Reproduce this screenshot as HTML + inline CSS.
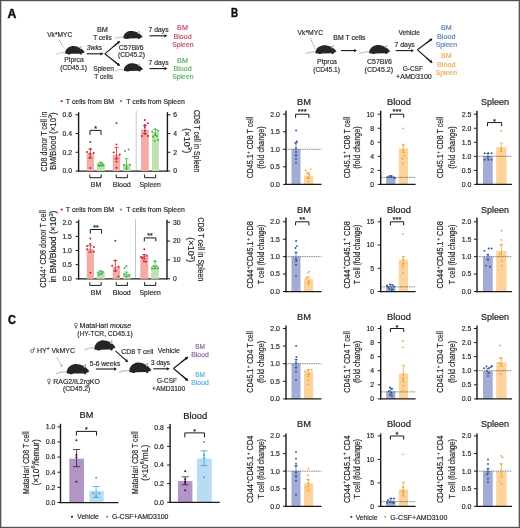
<!DOCTYPE html>
<html><head><meta charset="utf-8"><style>
html,body{margin:0;padding:0;background:#fff;width:520px;height:528px;overflow:hidden;}
svg{will-change:transform;}
svg text{font-family:"Liberation Sans", sans-serif;}
</style></head><body>
<svg width="520" height="528" viewBox="0 0 520 528" style="position:absolute;left:0;top:0;">
<rect x="0" y="0" width="520" height="528" fill="#ffffff"/>
<text x="7.6" y="17.5" font-size="12.2" fill="#111" text-anchor="start" stroke="#111" stroke-width="0.45" font-weight="bold" textLength="8.8" lengthAdjust="spacingAndGlyphs">A</text>
<text x="230.9" y="17.4" font-size="12.2" fill="#111" text-anchor="start" stroke="#111" stroke-width="0.45" font-weight="bold" textLength="7.1" lengthAdjust="spacingAndGlyphs">B</text>
<text x="8.1" y="323.8" font-size="12.2" fill="#111" text-anchor="start" stroke="#111" stroke-width="0.45" font-weight="bold" textLength="7.9" lengthAdjust="spacingAndGlyphs">C</text>
<text x="59.7" y="36.6" font-size="7.4" fill="#2a2a2a" text-anchor="middle" stroke="#2a2a2a" stroke-width="0.18" textLength="25" lengthAdjust="spacingAndGlyphs">Vk*MYC</text>
<line x1="59.2" y1="39.9" x2="63.6" y2="47.7" stroke="#8c8288" stroke-width="0.85" stroke-dasharray="1.3,0.9"/>
<g transform="translate(64.8,54.4) scale(0.9333333333333333,0.9222222222222223)"><path d="M1.2,-1.3 C-2,-2.9 -5,-2.4 -9,-0.5" fill="none" stroke="#c9c3c5" stroke-width="1.1" stroke-linecap="round"/><path d="M1.0,-0.6 C-0.6,-2.5 1.5,-7.5 7,-8.8 C10,-9.4 13,-8.6 15,-7.6 C16.5,-7.3 17.5,-6.6 18.5,-5.6 C19.6,-4.6 20.8,-3.5 21,-2.7 C21.1,-2.0 20.2,-1.7 19.2,-1.6 L18.2,-0.9 L18.4,0 L16.6,0 L16.2,-0.8 L6.5,-0.6 L5.5,0 L3.5,0 L3.2,-0.4 Z" fill="#272424"/><ellipse cx="17.2" cy="-7.4" rx="1.1" ry="1.8" transform="rotate(20 17.2 -7.4)" fill="#d8b4bc"/><circle cx="20.9" cy="-2.8" r="0.5" fill="#c87888"/></g>
<text x="74.0" y="62.0" font-size="7.4" fill="#2a2a2a" text-anchor="middle" stroke="#2a2a2a" stroke-width="0.18" textLength="19.4" lengthAdjust="spacingAndGlyphs">Ptprca</text>
<text x="73.55" y="69.6" font-size="7.4" fill="#2a2a2a" text-anchor="middle" stroke="#2a2a2a" stroke-width="0.18" textLength="26.7" lengthAdjust="spacingAndGlyphs">(CD45.1)</text>
<text x="102.4" y="31.6" font-size="7.4" fill="#2a2a2a" text-anchor="middle" stroke="#2a2a2a" stroke-width="0.18" textLength="11" lengthAdjust="spacingAndGlyphs">BM</text>
<text x="102.5" y="39.7" font-size="7.4" fill="#2a2a2a" text-anchor="middle" stroke="#2a2a2a" stroke-width="0.18" textLength="18.6" lengthAdjust="spacingAndGlyphs">T cells</text>
<text x="94.5" y="50.2" font-size="7.4" fill="#2a2a2a" text-anchor="middle" stroke="#2a2a2a" stroke-width="0.18" font-style="italic" textLength="15.4" lengthAdjust="spacingAndGlyphs">3wks</text>
<line x1="86.5" y1="53.8" x2="101.0" y2="53.8" stroke="#1a1a1a" stroke-width="1.1"/>
<path d="M103.50,53.80 L100.50,55.45 L100.50,52.15 Z" fill="#1a1a1a"/>
<line x1="119.5" y1="41.5" x2="104.8" y2="53.8" stroke="#1a1a1a" stroke-width="1.1"/>
<line x1="104.8" y1="53.8" x2="119.5" y2="65.5" stroke="#1a1a1a" stroke-width="1.1"/>
<line x1="114" y1="46.1" x2="118.07944680100657" y2="42.7004609991612" stroke="#1a1a1a" stroke-width="1.1"/>
<path d="M120.00,41.10 L118.75,44.29 L116.64,41.75 Z" fill="#1a1a1a"/>
<line x1="114" y1="61" x2="118.07944680100657" y2="64.3995390008388" stroke="#1a1a1a" stroke-width="1.1"/>
<path d="M120.00,66.00 L116.64,65.35 L118.75,62.81 Z" fill="#1a1a1a"/>
<text x="103.6" y="70.7" font-size="7.4" fill="#2a2a2a" text-anchor="middle" stroke="#2a2a2a" stroke-width="0.18" textLength="20.8" lengthAdjust="spacingAndGlyphs">Spleen</text>
<text x="103.7" y="78.5" font-size="7.4" fill="#2a2a2a" text-anchor="middle" stroke="#2a2a2a" stroke-width="0.18" textLength="18.8" lengthAdjust="spacingAndGlyphs">T cells</text>
<g transform="translate(123,39.1) scale(0.9190476190476191,0.911111111111111)"><path d="M1.2,-1.3 C-2,-2.9 -5,-2.4 -9,-0.5" fill="none" stroke="#c9c3c5" stroke-width="1.1" stroke-linecap="round"/><path d="M1.0,-0.6 C-0.6,-2.5 1.5,-7.5 7,-8.8 C10,-9.4 13,-8.6 15,-7.6 C16.5,-7.3 17.5,-6.6 18.5,-5.6 C19.6,-4.6 20.8,-3.5 21,-2.7 C21.1,-2.0 20.2,-1.7 19.2,-1.6 L18.2,-0.9 L18.4,0 L16.6,0 L16.2,-0.8 L6.5,-0.6 L5.5,0 L3.5,0 L3.2,-0.4 Z" fill="#272424"/><ellipse cx="17.2" cy="-7.4" rx="1.1" ry="1.8" transform="rotate(20 17.2 -7.4)" fill="#d8b4bc"/><circle cx="20.9" cy="-2.8" r="0.5" fill="#c87888"/></g>
<text x="131.25" y="50.3" font-size="7.4" fill="#2a2a2a" text-anchor="middle" stroke="#2a2a2a" stroke-width="0.18" textLength="24.9" lengthAdjust="spacingAndGlyphs">C57Bl/6</text>
<text x="131.45" y="57.4" font-size="7.4" fill="#2a2a2a" text-anchor="middle" stroke="#2a2a2a" stroke-width="0.18" textLength="26.9" lengthAdjust="spacingAndGlyphs">(CD45.2)</text>
<g transform="translate(123.5,71.5) scale(0.9190476190476191,0.911111111111111)"><path d="M1.2,-1.3 C-2,-2.9 -5,-2.4 -9,-0.5" fill="none" stroke="#c9c3c5" stroke-width="1.1" stroke-linecap="round"/><path d="M1.0,-0.6 C-0.6,-2.5 1.5,-7.5 7,-8.8 C10,-9.4 13,-8.6 15,-7.6 C16.5,-7.3 17.5,-6.6 18.5,-5.6 C19.6,-4.6 20.8,-3.5 21,-2.7 C21.1,-2.0 20.2,-1.7 19.2,-1.6 L18.2,-0.9 L18.4,0 L16.6,0 L16.2,-0.8 L6.5,-0.6 L5.5,0 L3.5,0 L3.2,-0.4 Z" fill="#272424"/><ellipse cx="17.2" cy="-7.4" rx="1.1" ry="1.8" transform="rotate(20 17.2 -7.4)" fill="#d8b4bc"/><circle cx="20.9" cy="-2.8" r="0.5" fill="#c87888"/></g>
<text x="158.6" y="32.3" font-size="7.4" fill="#2a2a2a" text-anchor="middle" stroke="#2a2a2a" stroke-width="0.18" textLength="20" lengthAdjust="spacingAndGlyphs">7 days</text>
<line x1="149.5" y1="35.8" x2="165.0" y2="35.8" stroke="#1a1a1a" stroke-width="1.1"/>
<path d="M167.50,35.80 L164.50,37.45 L164.50,34.15 Z" fill="#1a1a1a"/>
<text x="158.6" y="65.0" font-size="7.4" fill="#2a2a2a" text-anchor="middle" stroke="#2a2a2a" stroke-width="0.18" textLength="20" lengthAdjust="spacingAndGlyphs">7 days</text>
<line x1="149.5" y1="68.6" x2="165.0" y2="68.6" stroke="#1a1a1a" stroke-width="1.1"/>
<path d="M167.50,68.60 L164.50,70.25 L164.50,66.95 Z" fill="#1a1a1a"/>
<text x="182.55" y="29.9" font-size="7.4" fill="#c24a64" text-anchor="middle" stroke="#c24a64" stroke-width="0.18" textLength="10.9" lengthAdjust="spacingAndGlyphs">BM</text>
<text x="182.55" y="38.7" font-size="7.4" fill="#c24a64" text-anchor="middle" stroke="#c24a64" stroke-width="0.18" textLength="18.1" lengthAdjust="spacingAndGlyphs">Blood</text>
<text x="182.85" y="46.9" font-size="7.4" fill="#c24a64" text-anchor="middle" stroke="#c24a64" stroke-width="0.18" textLength="21.3" lengthAdjust="spacingAndGlyphs">Spleen</text>
<text x="182.55" y="62.5" font-size="7.4" fill="#60ae60" text-anchor="middle" stroke="#60ae60" stroke-width="0.18" textLength="10.9" lengthAdjust="spacingAndGlyphs">BM</text>
<text x="182.55" y="71.0" font-size="7.4" fill="#60ae60" text-anchor="middle" stroke="#60ae60" stroke-width="0.18" textLength="18.1" lengthAdjust="spacingAndGlyphs">Blood</text>
<text x="182.85" y="79.4" font-size="7.4" fill="#60ae60" text-anchor="middle" stroke="#60ae60" stroke-width="0.18" textLength="21.3" lengthAdjust="spacingAndGlyphs">Spleen</text>
<circle cx="61.7" cy="101.2" r="1.1" fill="#c8233c"/>
<text x="65.8" y="103.7" font-size="7.2" fill="#2a2a2a" text-anchor="start" stroke="#2a2a2a" stroke-width="0.18" textLength="48.4" lengthAdjust="spacingAndGlyphs">T cells from BM</text>
<circle cx="121" cy="101.2" r="1.1" fill="#3db34a"/>
<text x="126.3" y="103.7" font-size="7.2" fill="#2a2a2a" text-anchor="start" stroke="#2a2a2a" stroke-width="0.18" textLength="58.5" lengthAdjust="spacingAndGlyphs">T cells from Spleen</text>
<line x1="78.6" y1="112.2" x2="78.6" y2="171.7" stroke="#1a1a1a" stroke-width="1.4"/>
<line x1="77.89999999999999" y1="171.0" x2="167.4" y2="171.0" stroke="#1a1a1a" stroke-width="1.25"/>
<line x1="75.6" y1="114.8" x2="78.6" y2="114.8" stroke="#1a1a1a" stroke-width="1.0"/>
<text x="72.0" y="117.17999999999999" font-size="6.8" fill="#2a2a2a" text-anchor="end" stroke="#2a2a2a" stroke-width="0.18">0.6</text>
<line x1="75.6" y1="133.53333333333333" x2="78.6" y2="133.53333333333333" stroke="#1a1a1a" stroke-width="1.0"/>
<text x="72.0" y="135.91333333333333" font-size="6.8" fill="#2a2a2a" text-anchor="end" stroke="#2a2a2a" stroke-width="0.18">0.4</text>
<line x1="75.6" y1="152.26666666666665" x2="78.6" y2="152.26666666666665" stroke="#1a1a1a" stroke-width="1.0"/>
<text x="72.0" y="154.64666666666665" font-size="6.8" fill="#2a2a2a" text-anchor="end" stroke="#2a2a2a" stroke-width="0.18">0.2</text>
<line x1="75.6" y1="171.0" x2="78.6" y2="171.0" stroke="#1a1a1a" stroke-width="1.0"/>
<text x="72.0" y="173.38" font-size="6.8" fill="#2a2a2a" text-anchor="end" stroke="#2a2a2a" stroke-width="0.18">0.0</text>
<line x1="167.4" y1="112.2" x2="167.4" y2="171.6" stroke="#1a1a1a" stroke-width="1.4"/>
<line x1="167.4" y1="114.8" x2="170.4" y2="114.8" stroke="#1a1a1a" stroke-width="1.0"/>
<text x="173.3" y="117.17999999999999" font-size="6.8" fill="#2a2a2a" text-anchor="start" stroke="#2a2a2a" stroke-width="0.18">6</text>
<line x1="167.4" y1="133.53333333333333" x2="170.4" y2="133.53333333333333" stroke="#1a1a1a" stroke-width="1.0"/>
<text x="173.3" y="135.91333333333333" font-size="6.8" fill="#2a2a2a" text-anchor="start" stroke="#2a2a2a" stroke-width="0.18">4</text>
<line x1="167.4" y1="152.26666666666665" x2="170.4" y2="152.26666666666665" stroke="#1a1a1a" stroke-width="1.0"/>
<text x="173.3" y="154.64666666666665" font-size="6.8" fill="#2a2a2a" text-anchor="start" stroke="#2a2a2a" stroke-width="0.18">2</text>
<line x1="167.4" y1="171.0" x2="170.4" y2="171.0" stroke="#1a1a1a" stroke-width="1.0"/>
<text x="173.3" y="173.38" font-size="6.8" fill="#2a2a2a" text-anchor="start" stroke="#2a2a2a" stroke-width="0.18">0</text>
<rect x="86.7" y="153.2" width="7.200000000000003" height="17.80000000000001" fill="#f3aba3"/>
<rect x="96.7" y="163.5" width="8.099999999999994" height="7.5" fill="#bfe2b0"/>
<rect x="112.8" y="154.7" width="7.299999999999997" height="16.30000000000001" fill="#f3aba3"/>
<rect x="123" y="164.1" width="7.699999999999989" height="6.900000000000006" fill="#bfe2b0"/>
<rect x="141" y="129.6" width="7.800000000000011" height="41.400000000000006" fill="#f3aba3"/>
<rect x="152" y="132.0" width="6.800000000000011" height="39.0" fill="#bfe2b0"/>
<line x1="136.2" y1="111.5" x2="136.2" y2="170.5" stroke="#6a7080" stroke-width="0.9" stroke-dasharray="0.9,1.1"/>
<line x1="90.3" y1="149" x2="90.3" y2="158" stroke="#c8233c" stroke-width="0.8"/>
<line x1="88.3" y1="158" x2="92.3" y2="158" stroke="#c8233c" stroke-width="0.8"/>
<line x1="88.3" y1="149" x2="92.3" y2="149" stroke="#c8233c" stroke-width="0.8"/>
<circle cx="90.3" cy="142.1" r="1.0" fill="#c8233c"/>
<circle cx="90.3" cy="149" r="1.0" fill="#c8233c"/>
<circle cx="87" cy="152" r="1.0" fill="#c8233c"/>
<circle cx="93.7" cy="153" r="1.0" fill="#c8233c"/>
<circle cx="90" cy="153.8" r="1.0" fill="#c8233c"/>
<circle cx="90" cy="157.8" r="1.0" fill="#c8233c"/>
<circle cx="90.3" cy="168" r="1.0" fill="#c8233c"/>
<line x1="100.7" y1="162.5" x2="100.7" y2="165.5" stroke="#3db34a" stroke-width="0.8"/>
<line x1="98.7" y1="165.5" x2="102.7" y2="165.5" stroke="#3db34a" stroke-width="0.8"/>
<line x1="98.7" y1="162.5" x2="102.7" y2="162.5" stroke="#3db34a" stroke-width="0.8"/>
<circle cx="98.5" cy="164.5" r="1.0" fill="#3db34a"/>
<circle cx="100.5" cy="162.5" r="1.0" fill="#3db34a"/>
<circle cx="102.5" cy="164" r="1.0" fill="#3db34a"/>
<circle cx="99" cy="166" r="1.0" fill="#3db34a"/>
<circle cx="101.5" cy="166" r="1.0" fill="#3db34a"/>
<circle cx="103.5" cy="165.5" r="1.0" fill="#3db34a"/>
<line x1="116.5" y1="147.4" x2="116.5" y2="158.7" stroke="#c8233c" stroke-width="0.8"/>
<line x1="114.5" y1="158.7" x2="118.5" y2="158.7" stroke="#c8233c" stroke-width="0.8"/>
<line x1="114.5" y1="147.4" x2="118.5" y2="147.4" stroke="#c8233c" stroke-width="0.8"/>
<circle cx="116.5" cy="122.9" r="1.0" fill="#c8233c"/>
<circle cx="116.5" cy="144.5" r="1.0" fill="#c8233c"/>
<circle cx="113.7" cy="152.6" r="1.0" fill="#c8233c"/>
<circle cx="119.8" cy="154.4" r="1.0" fill="#c8233c"/>
<circle cx="116.5" cy="158.7" r="1.0" fill="#c8233c"/>
<circle cx="116.5" cy="161.7" r="1.0" fill="#c8233c"/>
<circle cx="116.5" cy="167.8" r="1.0" fill="#c8233c"/>
<line x1="126.5" y1="158.7" x2="126.5" y2="168" stroke="#3db34a" stroke-width="0.8"/>
<line x1="124.5" y1="168" x2="128.5" y2="168" stroke="#3db34a" stroke-width="0.8"/>
<line x1="124.5" y1="158.7" x2="128.5" y2="158.7" stroke="#3db34a" stroke-width="0.8"/>
<circle cx="125.2" cy="151" r="1.0" fill="#3db34a"/>
<circle cx="128.6" cy="149.6" r="1.0" fill="#3db34a"/>
<circle cx="123.8" cy="164.7" r="1.0" fill="#3db34a"/>
<circle cx="129.8" cy="164.7" r="1.0" fill="#3db34a"/>
<circle cx="126.5" cy="166" r="1.0" fill="#3db34a"/>
<circle cx="126.5" cy="169" r="1.0" fill="#3db34a"/>
<line x1="144.9" y1="125.5" x2="144.9" y2="133.5" stroke="#c8233c" stroke-width="0.8"/>
<line x1="142.9" y1="133.5" x2="146.9" y2="133.5" stroke="#c8233c" stroke-width="0.8"/>
<line x1="142.9" y1="125.5" x2="146.9" y2="125.5" stroke="#c8233c" stroke-width="0.8"/>
<circle cx="144.9" cy="119.9" r="1.0" fill="#c8233c"/>
<circle cx="147.9" cy="123.2" r="1.0" fill="#c8233c"/>
<circle cx="144.9" cy="125.1" r="1.0" fill="#c8233c"/>
<circle cx="144.9" cy="127.2" r="1.0" fill="#c8233c"/>
<circle cx="144.9" cy="130.8" r="1.0" fill="#c8233c"/>
<circle cx="144.9" cy="134.1" r="1.0" fill="#c8233c"/>
<circle cx="141.9" cy="136" r="1.0" fill="#c8233c"/>
<circle cx="147.9" cy="136" r="1.0" fill="#c8233c"/>
<line x1="155.4" y1="129.5" x2="155.4" y2="135.5" stroke="#3db34a" stroke-width="0.8"/>
<line x1="153.4" y1="135.5" x2="157.4" y2="135.5" stroke="#3db34a" stroke-width="0.8"/>
<line x1="153.4" y1="129.5" x2="157.4" y2="129.5" stroke="#3db34a" stroke-width="0.8"/>
<circle cx="152.2" cy="131.4" r="1.0" fill="#3db34a"/>
<circle cx="155.2" cy="129.2" r="1.0" fill="#3db34a"/>
<circle cx="158.2" cy="130.8" r="1.0" fill="#3db34a"/>
<circle cx="155.5" cy="134.4" r="1.0" fill="#3db34a"/>
<circle cx="153" cy="136.8" r="1.0" fill="#3db34a"/>
<circle cx="157" cy="136.2" r="1.0" fill="#3db34a"/>
<circle cx="154.5" cy="141.1" r="1.0" fill="#3db34a"/>
<circle cx="158" cy="139.9" r="1.0" fill="#3db34a"/>
<path d="M90,135.0 L90,130.4 L101,130.4 L101,135.0" fill="none" stroke="#1a1a1a" stroke-width="1.0"/>
<text x="95.5" y="131.3" font-size="7" fill="#1a1a1a" text-anchor="middle" stroke="#1a1a1a" stroke-width="0.18">*</text>
<path d="M89.8,174.5 L89.8,177.7 L101.2,177.7 L101.2,174.5" fill="none" stroke="#1a1a1a" stroke-width="1.0"/>
<path d="M116.2,174.5 L116.2,177.7 L127.4,177.7 L127.4,174.5" fill="none" stroke="#1a1a1a" stroke-width="1.0"/>
<path d="M144.6,174.5 L144.6,177.7 L155.7,177.7 L155.7,174.5" fill="none" stroke="#1a1a1a" stroke-width="1.0"/>
<text x="96.0" y="186.5" font-size="7.4" fill="#2a2a2a" text-anchor="middle" stroke="#2a2a2a" stroke-width="0.18" textLength="10.4" lengthAdjust="spacingAndGlyphs">BM</text>
<text x="121.75" y="186.5" font-size="7.4" fill="#2a2a2a" text-anchor="middle" stroke="#2a2a2a" stroke-width="0.18" textLength="18.1" lengthAdjust="spacingAndGlyphs">Blood</text>
<text x="150.15" y="186.5" font-size="7.4" fill="#2a2a2a" text-anchor="middle" stroke="#2a2a2a" stroke-width="0.18" textLength="21.1" lengthAdjust="spacingAndGlyphs">Spleen</text>
<text x="46.6" y="141.6" font-size="8.8" fill="#2a2a2a" text-anchor="middle" stroke="#2a2a2a" stroke-width="0.18" textLength="59.8" lengthAdjust="spacingAndGlyphs" transform="rotate(-90 46.6 141.6)">CD8 donor T cell in</text>
<text x="55.6" y="141.2" font-size="8.8" fill="#2a2a2a" text-anchor="middle" stroke="#2a2a2a" stroke-width="0.18" textLength="57.6" lengthAdjust="spacingAndGlyphs" transform="rotate(-90 55.6 141.2)">BM/Blood (×10<tspan dy="-3.3" font-size="5.8">3</tspan><tspan dy="3.3">)</tspan></text>
<text x="193.6" y="141.2" font-size="8.4" fill="#2a2a2a" text-anchor="middle" stroke="#2a2a2a" stroke-width="0.18" textLength="62.4" lengthAdjust="spacingAndGlyphs" transform="rotate(90 193.6 141.2)">CD8 T cell in Spleen</text>
<text x="184.3" y="140.8" font-size="8.4" fill="#2a2a2a" text-anchor="middle" stroke="#2a2a2a" stroke-width="0.18" textLength="24.9" lengthAdjust="spacingAndGlyphs" transform="rotate(90 184.3 140.8)">(×10<tspan dy="-3.3" font-size="5.8">3</tspan><tspan dy="3.3">)</tspan></text>
<circle cx="61.7" cy="209.6" r="1.1" fill="#c8233c"/>
<text x="65.8" y="212.1" font-size="7.2" fill="#2a2a2a" text-anchor="start" stroke="#2a2a2a" stroke-width="0.18" textLength="48.4" lengthAdjust="spacingAndGlyphs">T cells from BM</text>
<circle cx="121" cy="209.6" r="1.1" fill="#3db34a"/>
<text x="126.3" y="212.1" font-size="7.2" fill="#2a2a2a" text-anchor="start" stroke="#2a2a2a" stroke-width="0.18" textLength="58.5" lengthAdjust="spacingAndGlyphs">T cells from Spleen</text>
<line x1="78.6" y1="219.8" x2="78.6" y2="279.5" stroke="#1a1a1a" stroke-width="1.4"/>
<line x1="77.89999999999999" y1="278.8" x2="167.0" y2="278.8" stroke="#1a1a1a" stroke-width="1.25"/>
<line x1="75.6" y1="222.2" x2="78.6" y2="222.2" stroke="#1a1a1a" stroke-width="1.0"/>
<text x="71.9" y="224.57999999999998" font-size="6.8" fill="#2a2a2a" text-anchor="end" stroke="#2a2a2a" stroke-width="0.18">2.0</text>
<line x1="75.6" y1="236.35" x2="78.6" y2="236.35" stroke="#1a1a1a" stroke-width="1.0"/>
<text x="71.9" y="238.73" font-size="6.8" fill="#2a2a2a" text-anchor="end" stroke="#2a2a2a" stroke-width="0.18">1.5</text>
<line x1="75.6" y1="250.5" x2="78.6" y2="250.5" stroke="#1a1a1a" stroke-width="1.0"/>
<text x="71.9" y="252.88" font-size="6.8" fill="#2a2a2a" text-anchor="end" stroke="#2a2a2a" stroke-width="0.18">1.0</text>
<line x1="75.6" y1="264.65" x2="78.6" y2="264.65" stroke="#1a1a1a" stroke-width="1.0"/>
<text x="71.9" y="267.03" font-size="6.8" fill="#2a2a2a" text-anchor="end" stroke="#2a2a2a" stroke-width="0.18">0.5</text>
<line x1="75.6" y1="278.8" x2="78.6" y2="278.8" stroke="#1a1a1a" stroke-width="1.0"/>
<text x="71.9" y="281.18" font-size="6.8" fill="#2a2a2a" text-anchor="end" stroke="#2a2a2a" stroke-width="0.18">0.0</text>
<line x1="167.0" y1="219.8" x2="167.0" y2="279.40000000000003" stroke="#1a1a1a" stroke-width="1.4"/>
<line x1="167.0" y1="222.2" x2="170.0" y2="222.2" stroke="#1a1a1a" stroke-width="1.0"/>
<text x="172.9" y="224.57999999999998" font-size="6.8" fill="#2a2a2a" text-anchor="start" stroke="#2a2a2a" stroke-width="0.18">30</text>
<line x1="167.0" y1="241.06666666666666" x2="170.0" y2="241.06666666666666" stroke="#1a1a1a" stroke-width="1.0"/>
<text x="172.9" y="243.44666666666666" font-size="6.8" fill="#2a2a2a" text-anchor="start" stroke="#2a2a2a" stroke-width="0.18">20</text>
<line x1="167.0" y1="259.93333333333334" x2="170.0" y2="259.93333333333334" stroke="#1a1a1a" stroke-width="1.0"/>
<text x="172.9" y="262.31333333333333" font-size="6.8" fill="#2a2a2a" text-anchor="start" stroke="#2a2a2a" stroke-width="0.18">10</text>
<line x1="167.0" y1="278.8" x2="170.0" y2="278.8" stroke="#1a1a1a" stroke-width="1.0"/>
<text x="172.9" y="281.18" font-size="6.8" fill="#2a2a2a" text-anchor="start" stroke="#2a2a2a" stroke-width="0.18">0</text>
<rect x="86.7" y="249.0" width="7.200000000000003" height="29.80000000000001" fill="#f3aba3"/>
<rect x="96.7" y="272.1" width="8.099999999999994" height="6.699999999999989" fill="#bfe2b0"/>
<rect x="112.8" y="266.7" width="7.299999999999997" height="12.100000000000023" fill="#f3aba3"/>
<rect x="123" y="273.3" width="7.699999999999989" height="5.5" fill="#bfe2b0"/>
<rect x="140.3" y="256.4" width="8.0" height="22.400000000000034" fill="#f3aba3"/>
<rect x="151" y="266.1" width="7.800000000000011" height="12.699999999999989" fill="#bfe2b0"/>
<line x1="135.5" y1="219.5" x2="135.5" y2="278.5" stroke="#6a7080" stroke-width="0.9" stroke-dasharray="0.9,1.1"/>
<line x1="90.3" y1="245.7" x2="90.3" y2="252.1" stroke="#c8233c" stroke-width="0.8"/>
<line x1="88.3" y1="252.1" x2="92.3" y2="252.1" stroke="#c8233c" stroke-width="0.8"/>
<line x1="88.3" y1="245.7" x2="92.3" y2="245.7" stroke="#c8233c" stroke-width="0.8"/>
<circle cx="90.3" cy="238.4" r="1.0" fill="#c8233c"/>
<circle cx="90.3" cy="244" r="1.0" fill="#c8233c"/>
<circle cx="87" cy="246.1" r="1.0" fill="#c8233c"/>
<circle cx="93.9" cy="246.9" r="1.0" fill="#c8233c"/>
<circle cx="87" cy="249.3" r="1.0" fill="#c8233c"/>
<circle cx="93.9" cy="251.8" r="1.0" fill="#c8233c"/>
<circle cx="90.3" cy="272.7" r="1.0" fill="#c8233c"/>
<line x1="100.7" y1="271" x2="100.7" y2="274" stroke="#3db34a" stroke-width="0.8"/>
<line x1="98.7" y1="274" x2="102.7" y2="274" stroke="#3db34a" stroke-width="0.8"/>
<line x1="98.7" y1="271" x2="102.7" y2="271" stroke="#3db34a" stroke-width="0.8"/>
<circle cx="98" cy="272.5" r="1.0" fill="#3db34a"/>
<circle cx="100.5" cy="271" r="1.0" fill="#3db34a"/>
<circle cx="103" cy="272" r="1.0" fill="#3db34a"/>
<circle cx="101.5" cy="274" r="1.0" fill="#3db34a"/>
<circle cx="99" cy="275" r="1.0" fill="#3db34a"/>
<line x1="115.3" y1="260.6" x2="115.3" y2="271" stroke="#c8233c" stroke-width="0.8"/>
<line x1="113.3" y1="271" x2="117.3" y2="271" stroke="#c8233c" stroke-width="0.8"/>
<line x1="113.3" y1="260.6" x2="117.3" y2="260.6" stroke="#c8233c" stroke-width="0.8"/>
<circle cx="115.3" cy="240.8" r="1.0" fill="#c8233c"/>
<circle cx="115.3" cy="260.6" r="1.0" fill="#c8233c"/>
<circle cx="112.1" cy="265.8" r="1.0" fill="#c8233c"/>
<circle cx="118.5" cy="266.7" r="1.0" fill="#c8233c"/>
<circle cx="115.3" cy="270.9" r="1.0" fill="#c8233c"/>
<circle cx="118.5" cy="276.4" r="1.0" fill="#c8233c"/>
<line x1="126.4" y1="272.1" x2="126.4" y2="276" stroke="#3db34a" stroke-width="0.8"/>
<line x1="124.4" y1="276" x2="128.4" y2="276" stroke="#3db34a" stroke-width="0.8"/>
<line x1="124.4" y1="272.1" x2="128.4" y2="272.1" stroke="#3db34a" stroke-width="0.8"/>
<circle cx="126.4" cy="266.1" r="1.0" fill="#3db34a"/>
<circle cx="124.6" cy="267.9" r="1.0" fill="#3db34a"/>
<circle cx="124" cy="274.3" r="1.0" fill="#3db34a"/>
<circle cx="129" cy="275.5" r="1.0" fill="#3db34a"/>
<circle cx="126.5" cy="276.4" r="1.0" fill="#3db34a"/>
<line x1="144.3" y1="254.5" x2="144.3" y2="259" stroke="#c8233c" stroke-width="0.8"/>
<line x1="142.3" y1="259" x2="146.3" y2="259" stroke="#c8233c" stroke-width="0.8"/>
<line x1="142.3" y1="254.5" x2="146.3" y2="254.5" stroke="#c8233c" stroke-width="0.8"/>
<circle cx="144.3" cy="249.3" r="1.0" fill="#c8233c"/>
<circle cx="144.3" cy="256.1" r="1.0" fill="#c8233c"/>
<circle cx="141" cy="257" r="1.0" fill="#c8233c"/>
<circle cx="147" cy="255.8" r="1.0" fill="#c8233c"/>
<circle cx="142.5" cy="257.8" r="1.0" fill="#c8233c"/>
<circle cx="144" cy="261.2" r="1.0" fill="#c8233c"/>
<circle cx="146" cy="261.8" r="1.0" fill="#c8233c"/>
<line x1="155" y1="261.2" x2="155" y2="268.5" stroke="#3db34a" stroke-width="0.8"/>
<line x1="153.0" y1="268.5" x2="157.0" y2="268.5" stroke="#3db34a" stroke-width="0.8"/>
<line x1="153.0" y1="261.2" x2="157.0" y2="261.2" stroke="#3db34a" stroke-width="0.8"/>
<circle cx="155" cy="261.2" r="1.0" fill="#3db34a"/>
<circle cx="153.5" cy="266.1" r="1.0" fill="#3db34a"/>
<circle cx="156.5" cy="266.1" r="1.0" fill="#3db34a"/>
<circle cx="152" cy="268.5" r="1.0" fill="#3db34a"/>
<circle cx="158" cy="268.5" r="1.0" fill="#3db34a"/>
<circle cx="155" cy="268.5" r="1.0" fill="#3db34a"/>
<path d="M90.3,233.6 L90.3,229.5 L101.6,229.5 L101.6,233.6" fill="none" stroke="#1a1a1a" stroke-width="1.0"/>
<text x="95.94999999999999" y="229.8" font-size="7" fill="#1a1a1a" text-anchor="middle" stroke="#1a1a1a" stroke-width="0.18">**</text>
<path d="M144.3,241.4 L144.3,237.9 L155.8,237.9 L155.8,241.4" fill="none" stroke="#1a1a1a" stroke-width="1.0"/>
<text x="150.05" y="238.20000000000002" font-size="7" fill="#1a1a1a" text-anchor="middle" stroke="#1a1a1a" stroke-width="0.18">**</text>
<path d="M89.8,282.2 L89.8,285.4 L101.2,285.4 L101.2,282.2" fill="none" stroke="#1a1a1a" stroke-width="1.0"/>
<path d="M116.2,282.2 L116.2,285.4 L127.4,285.4 L127.4,282.2" fill="none" stroke="#1a1a1a" stroke-width="1.0"/>
<path d="M144.6,282.2 L144.6,285.4 L155.7,285.4 L155.7,282.2" fill="none" stroke="#1a1a1a" stroke-width="1.0"/>
<text x="96.0" y="294.6" font-size="7.4" fill="#2a2a2a" text-anchor="middle" stroke="#2a2a2a" stroke-width="0.18" textLength="10.4" lengthAdjust="spacingAndGlyphs">BM</text>
<text x="121.75" y="294.6" font-size="7.4" fill="#2a2a2a" text-anchor="middle" stroke="#2a2a2a" stroke-width="0.18" textLength="18.1" lengthAdjust="spacingAndGlyphs">Blood</text>
<text x="150.15" y="294.6" font-size="7.4" fill="#2a2a2a" text-anchor="middle" stroke="#2a2a2a" stroke-width="0.18" textLength="21.1" lengthAdjust="spacingAndGlyphs">Spleen</text>
<text x="46.1" y="249.0" font-size="8.8" fill="#2a2a2a" text-anchor="middle" stroke="#2a2a2a" stroke-width="0.18" textLength="77.5" lengthAdjust="spacingAndGlyphs" transform="rotate(-90 46.1 249.0)">CD44<tspan dy="-3.3" font-size="5.8">+</tspan><tspan dy="3.3"> CD8 donor T cell</tspan></text>
<text x="56.3" y="246.6" font-size="8.8" fill="#2a2a2a" text-anchor="middle" stroke="#2a2a2a" stroke-width="0.18" textLength="72.0" lengthAdjust="spacingAndGlyphs" transform="rotate(-90 56.3 246.6)">in BM/Blood (×10<tspan dy="-3.3" font-size="5.8">3</tspan><tspan dy="3.3">)</tspan></text>
<text x="197.6" y="249.4" font-size="8.4" fill="#2a2a2a" text-anchor="middle" stroke="#2a2a2a" stroke-width="0.18" textLength="63.6" lengthAdjust="spacingAndGlyphs" transform="rotate(90 197.6 249.4)">CD8 T cell in Spleen</text>
<text x="187.6" y="249.8" font-size="8.4" fill="#2a2a2a" text-anchor="middle" stroke="#2a2a2a" stroke-width="0.18" textLength="25.0" lengthAdjust="spacingAndGlyphs" transform="rotate(90 187.6 249.8)">(×10<tspan dy="-3.3" font-size="5.8">3</tspan><tspan dy="3.3">)</tspan></text>
<text x="310.35" y="34.8" font-size="7.4" fill="#2a2a2a" text-anchor="middle" stroke="#2a2a2a" stroke-width="0.18" textLength="25.5" lengthAdjust="spacingAndGlyphs">Vk*MYC</text>
<line x1="310.5" y1="38" x2="315" y2="49" stroke="#8c8288" stroke-width="0.85" stroke-dasharray="1.3,0.9"/>
<g transform="translate(315.1,54) scale(1.0095238095238095,0.9777777777777779)"><path d="M1.2,-1.3 C-2,-2.9 -5,-2.4 -9,-0.5" fill="none" stroke="#c9c3c5" stroke-width="1.1" stroke-linecap="round"/><path d="M1.0,-0.6 C-0.6,-2.5 1.5,-7.5 7,-8.8 C10,-9.4 13,-8.6 15,-7.6 C16.5,-7.3 17.5,-6.6 18.5,-5.6 C19.6,-4.6 20.8,-3.5 21,-2.7 C21.1,-2.0 20.2,-1.7 19.2,-1.6 L18.2,-0.9 L18.4,0 L16.6,0 L16.2,-0.8 L6.5,-0.6 L5.5,0 L3.5,0 L3.2,-0.4 Z" fill="#272424"/><ellipse cx="17.2" cy="-7.4" rx="1.1" ry="1.8" transform="rotate(20 17.2 -7.4)" fill="#d8b4bc"/><circle cx="20.9" cy="-2.8" r="0.5" fill="#c87888"/></g>
<text x="327.0" y="64.2" font-size="7.4" fill="#2a2a2a" text-anchor="middle" stroke="#2a2a2a" stroke-width="0.18" textLength="19.9" lengthAdjust="spacingAndGlyphs">Ptprca</text>
<text x="326.6" y="71.6" font-size="7.4" fill="#2a2a2a" text-anchor="middle" stroke="#2a2a2a" stroke-width="0.18" textLength="26.8" lengthAdjust="spacingAndGlyphs">(CD45.1)</text>
<text x="349.4" y="39.8" font-size="7" fill="#2a2a2a" text-anchor="middle" stroke="#2a2a2a" stroke-width="0.18" textLength="32.3" lengthAdjust="spacingAndGlyphs">BM T cells</text>
<line x1="341.1" y1="50.6" x2="354.5" y2="50.6" stroke="#1a1a1a" stroke-width="1.1"/>
<path d="M357.00,50.60 L354.00,52.25 L354.00,48.95 Z" fill="#1a1a1a"/>
<g transform="translate(368.8,54) scale(1.0095238095238095,1.0)"><path d="M1.2,-1.3 C-2,-2.9 -5,-2.4 -9,-0.5" fill="none" stroke="#c9c3c5" stroke-width="1.1" stroke-linecap="round"/><path d="M1.0,-0.6 C-0.6,-2.5 1.5,-7.5 7,-8.8 C10,-9.4 13,-8.6 15,-7.6 C16.5,-7.3 17.5,-6.6 18.5,-5.6 C19.6,-4.6 20.8,-3.5 21,-2.7 C21.1,-2.0 20.2,-1.7 19.2,-1.6 L18.2,-0.9 L18.4,0 L16.6,0 L16.2,-0.8 L6.5,-0.6 L5.5,0 L3.5,0 L3.2,-0.4 Z" fill="#272424"/><ellipse cx="17.2" cy="-7.4" rx="1.1" ry="1.8" transform="rotate(20 17.2 -7.4)" fill="#d8b4bc"/><circle cx="20.9" cy="-2.8" r="0.5" fill="#c87888"/></g>
<text x="379.45" y="63.5" font-size="7.4" fill="#2a2a2a" text-anchor="middle" stroke="#2a2a2a" stroke-width="0.18" textLength="25.1" lengthAdjust="spacingAndGlyphs">C57Bl/6</text>
<text x="378.85" y="71.7" font-size="7.4" fill="#2a2a2a" text-anchor="middle" stroke="#2a2a2a" stroke-width="0.18" textLength="28.5" lengthAdjust="spacingAndGlyphs">(CD45.2)</text>
<text x="409.2" y="34.6" font-size="7.4" fill="#2a2a2a" text-anchor="middle" stroke="#2a2a2a" stroke-width="0.18" textLength="21.5" lengthAdjust="spacingAndGlyphs">Vehicle</text>
<text x="404.7" y="47.1" font-size="7" fill="#2a2a2a" text-anchor="middle" stroke="#2a2a2a" stroke-width="0.18" textLength="20.2" lengthAdjust="spacingAndGlyphs">7 days</text>
<line x1="395.7" y1="50.6" x2="411.5" y2="50.6" stroke="#1a1a1a" stroke-width="1.1"/>
<path d="M414.00,50.60 L411.00,52.25 L411.00,48.95 Z" fill="#1a1a1a"/>
<line x1="431.8" y1="39" x2="417.5" y2="49.8" stroke="#1a1a1a" stroke-width="1.1"/>
<line x1="417.5" y1="49.8" x2="431.8" y2="62.5" stroke="#1a1a1a" stroke-width="1.1"/>
<line x1="426" y1="43.4" x2="430.50369152939487" y2="40.00490946245618" stroke="#1a1a1a" stroke-width="1.1"/>
<path d="M432.50,38.50 L431.10,41.62 L429.11,38.99 Z" fill="#1a1a1a"/>
<line x1="426" y1="57.3" x2="430.63464674679113" y2="61.435530943290566" stroke="#1a1a1a" stroke-width="1.1"/>
<path d="M432.50,63.10 L429.16,62.33 L431.36,59.87 Z" fill="#1a1a1a"/>
<text x="412.8" y="70.5" font-size="7" fill="#2a2a2a" text-anchor="middle" stroke="#2a2a2a" stroke-width="0.18" textLength="20.2" lengthAdjust="spacingAndGlyphs">G-CSF</text>
<text x="413.9" y="79.4" font-size="7" fill="#2a2a2a" text-anchor="middle" stroke="#2a2a2a" stroke-width="0.18" textLength="35.8" lengthAdjust="spacingAndGlyphs">+AMD3100</text>
<text x="446.25" y="30.1" font-size="7.4" fill="#5b7fb2" text-anchor="middle" stroke="#5b7fb2" stroke-width="0.18" textLength="10.7" lengthAdjust="spacingAndGlyphs">BM</text>
<text x="446.25" y="38.6" font-size="7.4" fill="#5b7fb2" text-anchor="middle" stroke="#5b7fb2" stroke-width="0.18" textLength="18.5" lengthAdjust="spacingAndGlyphs">Blood</text>
<text x="446.35" y="46.9" font-size="7.4" fill="#5b7fb2" text-anchor="middle" stroke="#5b7fb2" stroke-width="0.18" textLength="21.1" lengthAdjust="spacingAndGlyphs">Spleen</text>
<text x="446.25" y="58.1" font-size="7.4" fill="#efab52" text-anchor="middle" stroke="#efab52" stroke-width="0.18" textLength="10.7" lengthAdjust="spacingAndGlyphs">BM</text>
<text x="446.25" y="66.6" font-size="7.4" fill="#efab52" text-anchor="middle" stroke="#efab52" stroke-width="0.18" textLength="18.5" lengthAdjust="spacingAndGlyphs">Blood</text>
<text x="446.35" y="75.0" font-size="7.4" fill="#efab52" text-anchor="middle" stroke="#efab52" stroke-width="0.18" textLength="21.1" lengthAdjust="spacingAndGlyphs">Spleen</text>
<text x="304.0" y="104.9" font-size="9.2" fill="#222" text-anchor="middle" stroke="#222" stroke-width="0.2" textLength="13.9" lengthAdjust="spacingAndGlyphs">BM</text>
<rect x="291.5" y="149.3" width="9.0" height="35.099999999999994" fill="#a2acd6"/>
<rect x="304.0" y="175.6" width="9.199999999999989" height="8.800000000000011" fill="#fdd39c"/>
<line x1="286.0" y1="149.3" x2="321.5" y2="149.3" stroke="#4a4a4a" stroke-width="0.8" stroke-dasharray="1.0,0.75"/>
<line x1="296.0" y1="142.7" x2="296.0" y2="155.5" stroke="#4a78b8" stroke-width="0.8"/>
<line x1="294.3" y1="155.5" x2="297.7" y2="155.5" stroke="#4a78b8" stroke-width="0.8"/>
<line x1="294.3" y1="142.7" x2="297.7" y2="142.7" stroke="#4a78b8" stroke-width="0.8"/>
<line x1="308.6" y1="172.7" x2="308.6" y2="178.5" stroke="#f0a538" stroke-width="0.8"/>
<line x1="306.90000000000003" y1="178.5" x2="310.3" y2="178.5" stroke="#f0a538" stroke-width="0.8"/>
<line x1="306.90000000000003" y1="172.7" x2="310.3" y2="172.7" stroke="#f0a538" stroke-width="0.8"/>
<circle cx="296.1" cy="130.5" r="0.95" fill="#2b5592"/>
<circle cx="296.8" cy="141.5" r="0.95" fill="#2b5592"/>
<circle cx="295.6" cy="142.9" r="0.95" fill="#2b5592"/>
<circle cx="296" cy="148.2" r="0.95" fill="#2b5592"/>
<circle cx="296" cy="152.1" r="0.95" fill="#2b5592"/>
<circle cx="296" cy="155.4" r="0.95" fill="#2b5592"/>
<circle cx="296" cy="159" r="0.95" fill="#2b5592"/>
<circle cx="296" cy="162.6" r="0.95" fill="#2b5592"/>
<circle cx="305.8" cy="170.5" r="0.9" fill="#f0a538"/>
<circle cx="310.5" cy="169.1" r="0.9" fill="#f0a538"/>
<circle cx="307" cy="173.4" r="0.9" fill="#f0a538"/>
<circle cx="309.5" cy="174.8" r="0.9" fill="#f0a538"/>
<circle cx="308" cy="177.5" r="0.9" fill="#f0a538"/>
<circle cx="308" cy="181.3" r="0.9" fill="#f0a538"/>
<line x1="286.0" y1="110.8" x2="286.0" y2="185.1" stroke="#1a1a1a" stroke-width="1.4"/>
<line x1="285.3" y1="184.4" x2="321.5" y2="184.4" stroke="#1a1a1a" stroke-width="1.25"/>
<line x1="283.0" y1="114.2" x2="286.0" y2="114.2" stroke="#1a1a1a" stroke-width="1.0"/>
<text x="279.9" y="116.61500000000001" font-size="6.9" fill="#2a2a2a" text-anchor="end" stroke="#2a2a2a" stroke-width="0.18">2.0</text>
<line x1="283.0" y1="131.75" x2="286.0" y2="131.75" stroke="#1a1a1a" stroke-width="1.0"/>
<text x="279.9" y="134.165" font-size="6.9" fill="#2a2a2a" text-anchor="end" stroke="#2a2a2a" stroke-width="0.18">1.5</text>
<line x1="283.0" y1="149.3" x2="286.0" y2="149.3" stroke="#1a1a1a" stroke-width="1.0"/>
<text x="279.9" y="151.715" font-size="6.9" fill="#2a2a2a" text-anchor="end" stroke="#2a2a2a" stroke-width="0.18">1.0</text>
<line x1="283.0" y1="166.85000000000002" x2="286.0" y2="166.85000000000002" stroke="#1a1a1a" stroke-width="1.0"/>
<text x="279.9" y="169.26500000000001" font-size="6.9" fill="#2a2a2a" text-anchor="end" stroke="#2a2a2a" stroke-width="0.18">0.5</text>
<line x1="283.0" y1="184.4" x2="286.0" y2="184.4" stroke="#1a1a1a" stroke-width="1.0"/>
<text x="279.9" y="186.815" font-size="6.9" fill="#2a2a2a" text-anchor="end" stroke="#2a2a2a" stroke-width="0.18">0.0</text>
<path d="M295.6,117.8 L295.6,114.2 L308.90000000000003,114.2 L308.90000000000003,117.8" fill="none" stroke="#1a1a1a" stroke-width="1.0"/>
<text x="302.25" y="114.10000000000001" font-size="7.6" fill="#1a1a1a" text-anchor="middle" stroke="#1a1a1a" stroke-width="0.18">***</text>
<text x="253.2" y="147.5" font-size="9.2" fill="#2a2a2a" text-anchor="middle" stroke="#2a2a2a" stroke-width="0.18" textLength="61.5" lengthAdjust="spacingAndGlyphs" transform="rotate(-90 253.2 147.5)">CD45.1<tspan dy="-3.3" dx="0.6" font-size="6">+</tspan><tspan dy="3.3"> CD8 T cell</tspan></text>
<text x="264.3" y="147.5" font-size="8.2" fill="#2a2a2a" text-anchor="middle" stroke="#2a2a2a" stroke-width="0.18" textLength="42.3" lengthAdjust="spacingAndGlyphs" transform="rotate(-90 264.3 147.5)">(fold change)</text>
<text x="398.9" y="104.9" font-size="9.2" fill="#222" text-anchor="middle" stroke="#222" stroke-width="0.2" textLength="23.9" lengthAdjust="spacingAndGlyphs">Blood</text>
<rect x="386.2" y="176.6" width="9.199999999999989" height="7.800000000000011" fill="#a2acd6"/>
<rect x="398.8" y="148.4" width="9.199999999999989" height="36.0" fill="#fdd39c"/>
<line x1="380.7" y1="177.38" x2="415.6" y2="177.38" stroke="#4a4a4a" stroke-width="0.8" stroke-dasharray="1.0,0.75"/>
<line x1="390.79999999999995" y1="175.6" x2="390.79999999999995" y2="177.8" stroke="#4a78b8" stroke-width="0.8"/>
<line x1="389.09999999999997" y1="177.8" x2="392.49999999999994" y2="177.8" stroke="#4a78b8" stroke-width="0.8"/>
<line x1="389.09999999999997" y1="175.6" x2="392.49999999999994" y2="175.6" stroke="#4a78b8" stroke-width="0.8"/>
<line x1="403.4" y1="144.3" x2="403.4" y2="152.5" stroke="#f0a538" stroke-width="0.8"/>
<line x1="401.7" y1="152.5" x2="405.09999999999997" y2="152.5" stroke="#f0a538" stroke-width="0.8"/>
<line x1="401.7" y1="144.3" x2="405.09999999999997" y2="144.3" stroke="#f0a538" stroke-width="0.8"/>
<circle cx="387.5" cy="177.2" r="0.95" fill="#2b5592"/>
<circle cx="389.5" cy="176.2" r="0.95" fill="#2b5592"/>
<circle cx="391.5" cy="176.3" r="0.95" fill="#2b5592"/>
<circle cx="393.5" cy="177.4" r="0.95" fill="#2b5592"/>
<circle cx="395" cy="178.2" r="0.95" fill="#2b5592"/>
<circle cx="403" cy="128.4" r="0.9" fill="#f0a538"/>
<circle cx="403" cy="146" r="0.9" fill="#f0a538"/>
<circle cx="403" cy="150.3" r="0.9" fill="#f0a538"/>
<circle cx="404" cy="155.8" r="0.9" fill="#f0a538"/>
<circle cx="402.5" cy="159" r="0.9" fill="#f0a538"/>
<circle cx="403" cy="163.3" r="0.9" fill="#f0a538"/>
<line x1="380.7" y1="110.8" x2="380.7" y2="185.1" stroke="#1a1a1a" stroke-width="1.4"/>
<line x1="380.0" y1="184.4" x2="415.6" y2="184.4" stroke="#1a1a1a" stroke-width="1.25"/>
<line x1="377.7" y1="114.2" x2="380.7" y2="114.2" stroke="#1a1a1a" stroke-width="1.0"/>
<text x="374.2" y="116.61500000000001" font-size="6.9" fill="#2a2a2a" text-anchor="end" stroke="#2a2a2a" stroke-width="0.18">10</text>
<line x1="377.7" y1="128.24" x2="380.7" y2="128.24" stroke="#1a1a1a" stroke-width="1.0"/>
<text x="374.2" y="130.655" font-size="6.9" fill="#2a2a2a" text-anchor="end" stroke="#2a2a2a" stroke-width="0.18">8</text>
<line x1="377.7" y1="142.28" x2="380.7" y2="142.28" stroke="#1a1a1a" stroke-width="1.0"/>
<text x="374.2" y="144.695" font-size="6.9" fill="#2a2a2a" text-anchor="end" stroke="#2a2a2a" stroke-width="0.18">6</text>
<line x1="377.7" y1="156.32" x2="380.7" y2="156.32" stroke="#1a1a1a" stroke-width="1.0"/>
<text x="374.2" y="158.73499999999999" font-size="6.9" fill="#2a2a2a" text-anchor="end" stroke="#2a2a2a" stroke-width="0.18">4</text>
<line x1="377.7" y1="170.36" x2="380.7" y2="170.36" stroke="#1a1a1a" stroke-width="1.0"/>
<text x="374.2" y="172.775" font-size="6.9" fill="#2a2a2a" text-anchor="end" stroke="#2a2a2a" stroke-width="0.18">2</text>
<line x1="377.7" y1="184.4" x2="380.7" y2="184.4" stroke="#1a1a1a" stroke-width="1.0"/>
<text x="374.2" y="186.815" font-size="6.9" fill="#2a2a2a" text-anchor="end" stroke="#2a2a2a" stroke-width="0.18">0</text>
<path d="M390.4,117.8 L390.4,114.2 L403.7,114.2 L403.7,117.8" fill="none" stroke="#1a1a1a" stroke-width="1.0"/>
<text x="397.04999999999995" y="114.10000000000001" font-size="7.6" fill="#1a1a1a" text-anchor="middle" stroke="#1a1a1a" stroke-width="0.18">***</text>
<text x="349.8" y="147.5" font-size="9.2" fill="#2a2a2a" text-anchor="middle" stroke="#2a2a2a" stroke-width="0.18" textLength="61.5" lengthAdjust="spacingAndGlyphs" transform="rotate(-90 349.8 147.5)">CD45.1<tspan dy="-3.3" dx="0.6" font-size="6">+</tspan><tspan dy="3.3"> CD8 T cell</tspan></text>
<text x="360.1" y="147.5" font-size="8.2" fill="#2a2a2a" text-anchor="middle" stroke="#2a2a2a" stroke-width="0.18" textLength="42.3" lengthAdjust="spacingAndGlyphs" transform="rotate(-90 360.1 147.5)">(fold change)</text>
<text x="495.0" y="104.9" font-size="9.2" fill="#222" text-anchor="middle" stroke="#222" stroke-width="0.2" textLength="28.0" lengthAdjust="spacingAndGlyphs">Spleen</text>
<rect x="483.0" y="155.9" width="9.699999999999989" height="28.5" fill="#a2acd6"/>
<rect x="496.2" y="147.2" width="10.300000000000011" height="37.20000000000002" fill="#fdd39c"/>
<line x1="477.0" y1="156.32" x2="512.1" y2="156.32" stroke="#4a4a4a" stroke-width="0.8" stroke-dasharray="1.0,0.75"/>
<line x1="487.85" y1="153.5" x2="487.85" y2="158.3" stroke="#4a78b8" stroke-width="0.8"/>
<line x1="486.15000000000003" y1="158.3" x2="489.55" y2="158.3" stroke="#4a78b8" stroke-width="0.8"/>
<line x1="486.15000000000003" y1="153.5" x2="489.55" y2="153.5" stroke="#4a78b8" stroke-width="0.8"/>
<line x1="501.35" y1="143.1" x2="501.35" y2="151.6" stroke="#f0a538" stroke-width="0.8"/>
<line x1="499.65000000000003" y1="151.6" x2="503.05" y2="151.6" stroke="#f0a538" stroke-width="0.8"/>
<line x1="499.65000000000003" y1="143.1" x2="503.05" y2="143.1" stroke="#f0a538" stroke-width="0.8"/>
<circle cx="484.6" cy="153.2" r="0.95" fill="#2b5592"/>
<circle cx="488.2" cy="153.2" r="0.95" fill="#2b5592"/>
<circle cx="491.6" cy="153.2" r="0.95" fill="#2b5592"/>
<circle cx="488" cy="156.6" r="0.95" fill="#2b5592"/>
<circle cx="484.6" cy="159.7" r="0.95" fill="#2b5592"/>
<circle cx="488.2" cy="159.7" r="0.95" fill="#2b5592"/>
<circle cx="491.6" cy="159.7" r="0.95" fill="#2b5592"/>
<circle cx="501" cy="130.9" r="0.9" fill="#f0a538"/>
<circle cx="501.5" cy="148.2" r="0.9" fill="#f0a538"/>
<circle cx="501" cy="150.3" r="0.9" fill="#f0a538"/>
<circle cx="501.5" cy="155.8" r="0.9" fill="#f0a538"/>
<line x1="477.0" y1="110.8" x2="477.0" y2="185.1" stroke="#1a1a1a" stroke-width="1.4"/>
<line x1="476.3" y1="184.4" x2="512.1" y2="184.4" stroke="#1a1a1a" stroke-width="1.25"/>
<line x1="474.0" y1="114.2" x2="477.0" y2="114.2" stroke="#1a1a1a" stroke-width="1.0"/>
<text x="471.3" y="116.61500000000001" font-size="6.9" fill="#2a2a2a" text-anchor="end" stroke="#2a2a2a" stroke-width="0.18">2.5</text>
<line x1="474.0" y1="128.24" x2="477.0" y2="128.24" stroke="#1a1a1a" stroke-width="1.0"/>
<text x="471.3" y="130.655" font-size="6.9" fill="#2a2a2a" text-anchor="end" stroke="#2a2a2a" stroke-width="0.18">2.0</text>
<line x1="474.0" y1="142.28" x2="477.0" y2="142.28" stroke="#1a1a1a" stroke-width="1.0"/>
<text x="471.3" y="144.695" font-size="6.9" fill="#2a2a2a" text-anchor="end" stroke="#2a2a2a" stroke-width="0.18">1.5</text>
<line x1="474.0" y1="156.32" x2="477.0" y2="156.32" stroke="#1a1a1a" stroke-width="1.0"/>
<text x="471.3" y="158.73499999999999" font-size="6.9" fill="#2a2a2a" text-anchor="end" stroke="#2a2a2a" stroke-width="0.18">1.0</text>
<line x1="474.0" y1="170.36" x2="477.0" y2="170.36" stroke="#1a1a1a" stroke-width="1.0"/>
<text x="471.3" y="172.775" font-size="6.9" fill="#2a2a2a" text-anchor="end" stroke="#2a2a2a" stroke-width="0.18">0.5</text>
<line x1="474.0" y1="184.4" x2="477.0" y2="184.4" stroke="#1a1a1a" stroke-width="1.0"/>
<text x="471.3" y="186.815" font-size="6.9" fill="#2a2a2a" text-anchor="end" stroke="#2a2a2a" stroke-width="0.18">0.0</text>
<path d="M487.45000000000005,126.2 L487.45000000000005,122.60000000000001 L501.65000000000003,122.60000000000001 L501.65000000000003,126.2" fill="none" stroke="#1a1a1a" stroke-width="1.0"/>
<text x="494.55000000000007" y="123.9" font-size="7.6" fill="#1a1a1a" text-anchor="middle" stroke="#1a1a1a" stroke-width="0.18">*</text>
<text x="443.0" y="147.5" font-size="9.2" fill="#2a2a2a" text-anchor="middle" stroke="#2a2a2a" stroke-width="0.18" textLength="61.5" lengthAdjust="spacingAndGlyphs" transform="rotate(-90 443.0 147.5)">CD45.1<tspan dy="-3.3" dx="0.6" font-size="6">+</tspan><tspan dy="3.3"> CD8 T cell</tspan></text>
<text x="454.6" y="147.5" font-size="8.2" fill="#2a2a2a" text-anchor="middle" stroke="#2a2a2a" stroke-width="0.18" textLength="42.3" lengthAdjust="spacingAndGlyphs" transform="rotate(-90 454.6 147.5)">(fold change)</text>
<text x="304.0" y="212.5" font-size="9.2" fill="#222" text-anchor="middle" stroke="#222" stroke-width="0.2" textLength="13.9" lengthAdjust="spacingAndGlyphs">BM</text>
<rect x="291.5" y="256.6" width="9.0" height="34.89999999999998" fill="#a2acd6"/>
<rect x="304.0" y="279.2" width="9.199999999999989" height="12.300000000000011" fill="#fdd39c"/>
<line x1="286.0" y1="256.65" x2="321.5" y2="256.65" stroke="#4a4a4a" stroke-width="0.8" stroke-dasharray="1.0,0.75"/>
<line x1="296.0" y1="252.3" x2="296.0" y2="261.5" stroke="#4a78b8" stroke-width="0.8"/>
<line x1="294.3" y1="261.5" x2="297.7" y2="261.5" stroke="#4a78b8" stroke-width="0.8"/>
<line x1="294.3" y1="252.3" x2="297.7" y2="252.3" stroke="#4a78b8" stroke-width="0.8"/>
<line x1="308.6" y1="277.1" x2="308.6" y2="283.0" stroke="#f0a538" stroke-width="0.8"/>
<line x1="306.90000000000003" y1="283.0" x2="310.3" y2="283.0" stroke="#f0a538" stroke-width="0.8"/>
<line x1="306.90000000000003" y1="277.1" x2="310.3" y2="277.1" stroke="#f0a538" stroke-width="0.8"/>
<circle cx="296.1" cy="241" r="0.95" fill="#2b5592"/>
<circle cx="296.8" cy="246.1" r="0.95" fill="#2b5592"/>
<circle cx="295.4" cy="248" r="0.95" fill="#2b5592"/>
<circle cx="296" cy="252.6" r="0.95" fill="#2b5592"/>
<circle cx="296" cy="259.1" r="0.95" fill="#2b5592"/>
<circle cx="296.5" cy="260.5" r="0.95" fill="#2b5592"/>
<circle cx="296" cy="264.8" r="0.95" fill="#2b5592"/>
<circle cx="296" cy="275.6" r="0.95" fill="#2b5592"/>
<circle cx="309.3" cy="271.3" r="0.9" fill="#f0a538"/>
<circle cx="308" cy="272.8" r="0.9" fill="#f0a538"/>
<circle cx="307" cy="277.1" r="0.9" fill="#f0a538"/>
<circle cx="306" cy="278.5" r="0.9" fill="#f0a538"/>
<circle cx="309" cy="281.4" r="0.9" fill="#f0a538"/>
<circle cx="308.5" cy="284.3" r="0.9" fill="#f0a538"/>
<line x1="286.0" y1="217.5" x2="286.0" y2="292.2" stroke="#1a1a1a" stroke-width="1.4"/>
<line x1="285.3" y1="291.5" x2="321.5" y2="291.5" stroke="#1a1a1a" stroke-width="1.25"/>
<line x1="283.0" y1="221.8" x2="286.0" y2="221.8" stroke="#1a1a1a" stroke-width="1.0"/>
<text x="279.9" y="224.215" font-size="6.9" fill="#2a2a2a" text-anchor="end" stroke="#2a2a2a" stroke-width="0.18">2.0</text>
<line x1="283.0" y1="239.22500000000002" x2="286.0" y2="239.22500000000002" stroke="#1a1a1a" stroke-width="1.0"/>
<text x="279.9" y="241.64000000000001" font-size="6.9" fill="#2a2a2a" text-anchor="end" stroke="#2a2a2a" stroke-width="0.18">1.5</text>
<line x1="283.0" y1="256.65" x2="286.0" y2="256.65" stroke="#1a1a1a" stroke-width="1.0"/>
<text x="279.9" y="259.065" font-size="6.9" fill="#2a2a2a" text-anchor="end" stroke="#2a2a2a" stroke-width="0.18">1.0</text>
<line x1="283.0" y1="274.075" x2="286.0" y2="274.075" stroke="#1a1a1a" stroke-width="1.0"/>
<text x="279.9" y="276.49" font-size="6.9" fill="#2a2a2a" text-anchor="end" stroke="#2a2a2a" stroke-width="0.18">0.5</text>
<line x1="283.0" y1="291.5" x2="286.0" y2="291.5" stroke="#1a1a1a" stroke-width="1.0"/>
<text x="279.9" y="293.915" font-size="6.9" fill="#2a2a2a" text-anchor="end" stroke="#2a2a2a" stroke-width="0.18">0.0</text>
<path d="M295.6,225.4 L295.6,221.8 L308.90000000000003,221.8 L308.90000000000003,225.4" fill="none" stroke="#1a1a1a" stroke-width="1.0"/>
<text x="302.25" y="221.70000000000002" font-size="7.6" fill="#1a1a1a" text-anchor="middle" stroke="#1a1a1a" stroke-width="0.18">**</text>
<text x="253.2" y="254.84999999999997" font-size="9.2" fill="#2a2a2a" text-anchor="middle" stroke="#2a2a2a" stroke-width="0.18" textLength="67.5" lengthAdjust="spacingAndGlyphs" transform="rotate(-90 253.2 254.84999999999997)">CD44<tspan dy="-3.3" dx="0.6" font-size="6">+</tspan><tspan dy="3.3">CD45.1<tspan dy="-3.3" dx="0.6" font-size="6">+</tspan><tspan dy="3.3"> CD8</tspan></tspan></text>
<text x="264.3" y="254.34999999999997" font-size="8.2" fill="#2a2a2a" text-anchor="middle" stroke="#2a2a2a" stroke-width="0.18" textLength="59.6" lengthAdjust="spacingAndGlyphs" transform="rotate(-90 264.3 254.34999999999997)">T cell (fold change)</text>
<text x="398.9" y="212.5" font-size="9.2" fill="#222" text-anchor="middle" stroke="#222" stroke-width="0.2" textLength="23.9" lengthAdjust="spacingAndGlyphs">Blood</text>
<rect x="386.2" y="286.0" width="9.199999999999989" height="5.5" fill="#a2acd6"/>
<rect x="398.8" y="259.8" width="9.199999999999989" height="31.69999999999999" fill="#fdd39c"/>
<line x1="380.7" y1="286.85333333333335" x2="415.6" y2="286.85333333333335" stroke="#4a4a4a" stroke-width="0.8" stroke-dasharray="1.0,0.75"/>
<line x1="390.79999999999995" y1="284.5" x2="390.79999999999995" y2="288.5" stroke="#4a78b8" stroke-width="0.8"/>
<line x1="389.09999999999997" y1="288.5" x2="392.49999999999994" y2="288.5" stroke="#4a78b8" stroke-width="0.8"/>
<line x1="389.09999999999997" y1="284.5" x2="392.49999999999994" y2="284.5" stroke="#4a78b8" stroke-width="0.8"/>
<line x1="403.4" y1="256.6" x2="403.4" y2="263.5" stroke="#f0a538" stroke-width="0.8"/>
<line x1="401.7" y1="263.5" x2="405.09999999999997" y2="263.5" stroke="#f0a538" stroke-width="0.8"/>
<line x1="401.7" y1="256.6" x2="405.09999999999997" y2="256.6" stroke="#f0a538" stroke-width="0.8"/>
<circle cx="388" cy="287" r="0.95" fill="#2b5592"/>
<circle cx="390" cy="284.5" r="0.95" fill="#2b5592"/>
<circle cx="392.5" cy="285" r="0.95" fill="#2b5592"/>
<circle cx="394" cy="286.5" r="0.95" fill="#2b5592"/>
<circle cx="389" cy="289" r="0.95" fill="#2b5592"/>
<circle cx="391.5" cy="290" r="0.95" fill="#2b5592"/>
<circle cx="387" cy="285.5" r="0.95" fill="#2b5592"/>
<circle cx="393" cy="289.5" r="0.95" fill="#2b5592"/>
<circle cx="402.8" cy="233.9" r="0.9" fill="#f0a538"/>
<circle cx="403" cy="259.1" r="0.9" fill="#f0a538"/>
<circle cx="404" cy="263.8" r="0.9" fill="#f0a538"/>
<circle cx="402" cy="265.5" r="0.9" fill="#f0a538"/>
<circle cx="403" cy="267.7" r="0.9" fill="#f0a538"/>
<circle cx="403" cy="272.8" r="0.9" fill="#f0a538"/>
<line x1="380.7" y1="217.5" x2="380.7" y2="292.2" stroke="#1a1a1a" stroke-width="1.4"/>
<line x1="380.0" y1="291.5" x2="415.6" y2="291.5" stroke="#1a1a1a" stroke-width="1.25"/>
<line x1="377.7" y1="221.8" x2="380.7" y2="221.8" stroke="#1a1a1a" stroke-width="1.0"/>
<text x="374.2" y="224.215" font-size="6.9" fill="#2a2a2a" text-anchor="end" stroke="#2a2a2a" stroke-width="0.18">15</text>
<line x1="377.7" y1="245.03333333333333" x2="380.7" y2="245.03333333333333" stroke="#1a1a1a" stroke-width="1.0"/>
<text x="374.2" y="247.44833333333332" font-size="6.9" fill="#2a2a2a" text-anchor="end" stroke="#2a2a2a" stroke-width="0.18">10</text>
<line x1="377.7" y1="268.26666666666665" x2="380.7" y2="268.26666666666665" stroke="#1a1a1a" stroke-width="1.0"/>
<text x="374.2" y="270.6816666666667" font-size="6.9" fill="#2a2a2a" text-anchor="end" stroke="#2a2a2a" stroke-width="0.18">5</text>
<line x1="377.7" y1="291.5" x2="380.7" y2="291.5" stroke="#1a1a1a" stroke-width="1.0"/>
<text x="374.2" y="293.915" font-size="6.9" fill="#2a2a2a" text-anchor="end" stroke="#2a2a2a" stroke-width="0.18">0</text>
<path d="M390.4,225.4 L390.4,221.8 L403.7,221.8 L403.7,225.4" fill="none" stroke="#1a1a1a" stroke-width="1.0"/>
<text x="397.04999999999995" y="221.70000000000002" font-size="7.6" fill="#1a1a1a" text-anchor="middle" stroke="#1a1a1a" stroke-width="0.18">***</text>
<text x="349.8" y="254.84999999999997" font-size="9.2" fill="#2a2a2a" text-anchor="middle" stroke="#2a2a2a" stroke-width="0.18" textLength="67.5" lengthAdjust="spacingAndGlyphs" transform="rotate(-90 349.8 254.84999999999997)">CD44<tspan dy="-3.3" dx="0.6" font-size="6">+</tspan><tspan dy="3.3">CD45.1<tspan dy="-3.3" dx="0.6" font-size="6">+</tspan><tspan dy="3.3"> CD8</tspan></tspan></text>
<text x="360.1" y="254.34999999999997" font-size="8.2" fill="#2a2a2a" text-anchor="middle" stroke="#2a2a2a" stroke-width="0.18" textLength="59.6" lengthAdjust="spacingAndGlyphs" transform="rotate(-90 360.1 254.34999999999997)">T cell (fold change)</text>
<text x="495.0" y="212.5" font-size="9.2" fill="#222" text-anchor="middle" stroke="#222" stroke-width="0.2" textLength="28.0" lengthAdjust="spacingAndGlyphs">Spleen</text>
<rect x="483.0" y="256.6" width="9.699999999999989" height="34.89999999999998" fill="#a2acd6"/>
<rect x="496.2" y="250.9" width="10.300000000000011" height="40.599999999999994" fill="#fdd39c"/>
<line x1="477.0" y1="256.65" x2="512.1" y2="256.65" stroke="#4a4a4a" stroke-width="0.8" stroke-dasharray="1.0,0.75"/>
<line x1="487.85" y1="254.7" x2="487.85" y2="259.5" stroke="#4a78b8" stroke-width="0.8"/>
<line x1="486.15000000000003" y1="259.5" x2="489.55" y2="259.5" stroke="#4a78b8" stroke-width="0.8"/>
<line x1="486.15000000000003" y1="254.7" x2="489.55" y2="254.7" stroke="#4a78b8" stroke-width="0.8"/>
<line x1="501.35" y1="244.7" x2="501.35" y2="257.0" stroke="#f0a538" stroke-width="0.8"/>
<line x1="499.65000000000003" y1="257.0" x2="503.05" y2="257.0" stroke="#f0a538" stroke-width="0.8"/>
<line x1="499.65000000000003" y1="244.7" x2="503.05" y2="244.7" stroke="#f0a538" stroke-width="0.8"/>
<circle cx="484.4" cy="250.9" r="0.95" fill="#2b5592"/>
<circle cx="488.7" cy="248.5" r="0.95" fill="#2b5592"/>
<circle cx="491.6" cy="248.5" r="0.95" fill="#2b5592"/>
<circle cx="488" cy="254.7" r="0.95" fill="#2b5592"/>
<circle cx="488" cy="259.8" r="0.95" fill="#2b5592"/>
<circle cx="486" cy="265.6" r="0.95" fill="#2b5592"/>
<circle cx="490" cy="266.7" r="0.95" fill="#2b5592"/>
<circle cx="501.5" cy="230.7" r="0.9" fill="#f0a538"/>
<circle cx="501.5" cy="239.9" r="0.9" fill="#f0a538"/>
<circle cx="501" cy="244.7" r="0.9" fill="#f0a538"/>
<circle cx="500" cy="254" r="0.9" fill="#f0a538"/>
<circle cx="502" cy="261.2" r="0.9" fill="#f0a538"/>
<circle cx="501.5" cy="265.6" r="0.9" fill="#f0a538"/>
<line x1="477.0" y1="217.5" x2="477.0" y2="292.2" stroke="#1a1a1a" stroke-width="1.4"/>
<line x1="476.3" y1="291.5" x2="512.1" y2="291.5" stroke="#1a1a1a" stroke-width="1.25"/>
<line x1="474.0" y1="221.8" x2="477.0" y2="221.8" stroke="#1a1a1a" stroke-width="1.0"/>
<text x="471.3" y="224.215" font-size="6.9" fill="#2a2a2a" text-anchor="end" stroke="#2a2a2a" stroke-width="0.18">2.0</text>
<line x1="474.0" y1="239.22500000000002" x2="477.0" y2="239.22500000000002" stroke="#1a1a1a" stroke-width="1.0"/>
<text x="471.3" y="241.64000000000001" font-size="6.9" fill="#2a2a2a" text-anchor="end" stroke="#2a2a2a" stroke-width="0.18">1.5</text>
<line x1="474.0" y1="256.65" x2="477.0" y2="256.65" stroke="#1a1a1a" stroke-width="1.0"/>
<text x="471.3" y="259.065" font-size="6.9" fill="#2a2a2a" text-anchor="end" stroke="#2a2a2a" stroke-width="0.18">1.0</text>
<line x1="474.0" y1="274.075" x2="477.0" y2="274.075" stroke="#1a1a1a" stroke-width="1.0"/>
<text x="471.3" y="276.49" font-size="6.9" fill="#2a2a2a" text-anchor="end" stroke="#2a2a2a" stroke-width="0.18">0.5</text>
<line x1="474.0" y1="291.5" x2="477.0" y2="291.5" stroke="#1a1a1a" stroke-width="1.0"/>
<text x="471.3" y="293.915" font-size="6.9" fill="#2a2a2a" text-anchor="end" stroke="#2a2a2a" stroke-width="0.18">0.0</text>
<text x="443.0" y="254.84999999999997" font-size="9.2" fill="#2a2a2a" text-anchor="middle" stroke="#2a2a2a" stroke-width="0.18" textLength="67.5" lengthAdjust="spacingAndGlyphs" transform="rotate(-90 443.0 254.84999999999997)">CD44<tspan dy="-3.3" dx="0.6" font-size="6">+</tspan><tspan dy="3.3">CD45.1<tspan dy="-3.3" dx="0.6" font-size="6">+</tspan><tspan dy="3.3"> CD8</tspan></tspan></text>
<text x="454.6" y="254.34999999999997" font-size="8.2" fill="#2a2a2a" text-anchor="middle" stroke="#2a2a2a" stroke-width="0.18" textLength="59.6" lengthAdjust="spacingAndGlyphs" transform="rotate(-90 454.6 254.34999999999997)">T cell (fold change)</text>
<text x="304.0" y="319.8" font-size="9.2" fill="#222" text-anchor="middle" stroke="#222" stroke-width="0.2" textLength="13.9" lengthAdjust="spacingAndGlyphs">BM</text>
<rect x="291.5" y="363.6" width="9.0" height="35.299999999999955" fill="#a2acd6"/>
<rect x="304.0" y="371.8" width="9.199999999999989" height="27.099999999999966" fill="#fdd39c"/>
<line x1="286.0" y1="363.7" x2="321.5" y2="363.7" stroke="#4a4a4a" stroke-width="0.8" stroke-dasharray="1.0,0.75"/>
<line x1="296.0" y1="359.6" x2="296.0" y2="367.5" stroke="#4a78b8" stroke-width="0.8"/>
<line x1="294.3" y1="367.5" x2="297.7" y2="367.5" stroke="#4a78b8" stroke-width="0.8"/>
<line x1="294.3" y1="359.6" x2="297.7" y2="359.6" stroke="#4a78b8" stroke-width="0.8"/>
<line x1="308.6" y1="369.5" x2="308.6" y2="374.5" stroke="#f0a538" stroke-width="0.8"/>
<line x1="306.90000000000003" y1="374.5" x2="310.3" y2="374.5" stroke="#f0a538" stroke-width="0.8"/>
<line x1="306.90000000000003" y1="369.5" x2="310.3" y2="369.5" stroke="#f0a538" stroke-width="0.8"/>
<circle cx="296.1" cy="345.9" r="0.95" fill="#2b5592"/>
<circle cx="296.3" cy="357" r="0.95" fill="#2b5592"/>
<circle cx="296.3" cy="359.6" r="0.95" fill="#2b5592"/>
<circle cx="296" cy="362.8" r="0.95" fill="#2b5592"/>
<circle cx="296" cy="368" r="0.95" fill="#2b5592"/>
<circle cx="296" cy="371.8" r="0.95" fill="#2b5592"/>
<circle cx="296" cy="380" r="0.95" fill="#2b5592"/>
<circle cx="305" cy="371.1" r="0.9" fill="#f0a538"/>
<circle cx="307.5" cy="370.8" r="0.9" fill="#f0a538"/>
<circle cx="311.8" cy="370" r="0.9" fill="#f0a538"/>
<circle cx="308" cy="374.7" r="0.9" fill="#f0a538"/>
<circle cx="308" cy="376.6" r="0.9" fill="#f0a538"/>
<circle cx="308" cy="380.5" r="0.9" fill="#f0a538"/>
<circle cx="308" cy="384.4" r="0.9" fill="#f0a538"/>
<line x1="286.0" y1="325.6" x2="286.0" y2="399.59999999999997" stroke="#1a1a1a" stroke-width="1.4"/>
<line x1="285.3" y1="398.9" x2="321.5" y2="398.9" stroke="#1a1a1a" stroke-width="1.25"/>
<line x1="283.0" y1="328.5" x2="286.0" y2="328.5" stroke="#1a1a1a" stroke-width="1.0"/>
<text x="279.9" y="330.915" font-size="6.9" fill="#2a2a2a" text-anchor="end" stroke="#2a2a2a" stroke-width="0.18">2.0</text>
<line x1="283.0" y1="346.1" x2="286.0" y2="346.1" stroke="#1a1a1a" stroke-width="1.0"/>
<text x="279.9" y="348.51500000000004" font-size="6.9" fill="#2a2a2a" text-anchor="end" stroke="#2a2a2a" stroke-width="0.18">1.5</text>
<line x1="283.0" y1="363.7" x2="286.0" y2="363.7" stroke="#1a1a1a" stroke-width="1.0"/>
<text x="279.9" y="366.115" font-size="6.9" fill="#2a2a2a" text-anchor="end" stroke="#2a2a2a" stroke-width="0.18">1.0</text>
<line x1="283.0" y1="381.29999999999995" x2="286.0" y2="381.29999999999995" stroke="#1a1a1a" stroke-width="1.0"/>
<text x="279.9" y="383.715" font-size="6.9" fill="#2a2a2a" text-anchor="end" stroke="#2a2a2a" stroke-width="0.18">0.5</text>
<line x1="283.0" y1="398.9" x2="286.0" y2="398.9" stroke="#1a1a1a" stroke-width="1.0"/>
<text x="279.9" y="401.315" font-size="6.9" fill="#2a2a2a" text-anchor="end" stroke="#2a2a2a" stroke-width="0.18">0.0</text>
<text x="253.2" y="361.9" font-size="9.2" fill="#2a2a2a" text-anchor="middle" stroke="#2a2a2a" stroke-width="0.18" textLength="61.5" lengthAdjust="spacingAndGlyphs" transform="rotate(-90 253.2 361.9)">CD45.1<tspan dy="-3.3" dx="0.6" font-size="6">+</tspan><tspan dy="3.3"> CD4 T cell</tspan></text>
<text x="264.3" y="361.9" font-size="8.2" fill="#2a2a2a" text-anchor="middle" stroke="#2a2a2a" stroke-width="0.18" textLength="42.3" lengthAdjust="spacingAndGlyphs" transform="rotate(-90 264.3 361.9)">(fold change)</text>
<text x="398.9" y="319.8" font-size="9.2" fill="#222" text-anchor="middle" stroke="#222" stroke-width="0.2" textLength="23.9" lengthAdjust="spacingAndGlyphs">Blood</text>
<rect x="386.2" y="391.3" width="9.199999999999989" height="7.599999999999966" fill="#a2acd6"/>
<rect x="398.8" y="373.7" width="9.199999999999989" height="25.19999999999999" fill="#fdd39c"/>
<line x1="380.7" y1="391.85999999999996" x2="415.6" y2="391.85999999999996" stroke="#4a4a4a" stroke-width="0.8" stroke-dasharray="1.0,0.75"/>
<line x1="390.79999999999995" y1="388.0" x2="390.79999999999995" y2="394.0" stroke="#4a78b8" stroke-width="0.8"/>
<line x1="389.09999999999997" y1="394.0" x2="392.49999999999994" y2="394.0" stroke="#4a78b8" stroke-width="0.8"/>
<line x1="389.09999999999997" y1="388.0" x2="392.49999999999994" y2="388.0" stroke="#4a78b8" stroke-width="0.8"/>
<line x1="403.4" y1="365.3" x2="403.4" y2="382.0" stroke="#f0a538" stroke-width="0.8"/>
<line x1="401.7" y1="382.0" x2="405.09999999999997" y2="382.0" stroke="#f0a538" stroke-width="0.8"/>
<line x1="401.7" y1="365.3" x2="405.09999999999997" y2="365.3" stroke="#f0a538" stroke-width="0.8"/>
<circle cx="390" cy="387.5" r="0.95" fill="#2b5592"/>
<circle cx="392" cy="389" r="0.95" fill="#2b5592"/>
<circle cx="389" cy="391" r="0.95" fill="#2b5592"/>
<circle cx="391.5" cy="393" r="0.95" fill="#2b5592"/>
<circle cx="390" cy="395" r="0.95" fill="#2b5592"/>
<circle cx="392" cy="396" r="0.95" fill="#2b5592"/>
<circle cx="403" cy="340.9" r="0.9" fill="#f0a538"/>
<circle cx="403" cy="347.3" r="0.9" fill="#f0a538"/>
<circle cx="403" cy="374" r="0.9" fill="#f0a538"/>
<circle cx="403" cy="379" r="0.9" fill="#f0a538"/>
<circle cx="403" cy="385.5" r="0.9" fill="#f0a538"/>
<circle cx="403" cy="390.6" r="0.9" fill="#f0a538"/>
<line x1="380.7" y1="325.6" x2="380.7" y2="399.59999999999997" stroke="#1a1a1a" stroke-width="1.4"/>
<line x1="380.0" y1="398.9" x2="415.6" y2="398.9" stroke="#1a1a1a" stroke-width="1.25"/>
<line x1="377.7" y1="328.5" x2="380.7" y2="328.5" stroke="#1a1a1a" stroke-width="1.0"/>
<text x="374.2" y="330.915" font-size="6.9" fill="#2a2a2a" text-anchor="end" stroke="#2a2a2a" stroke-width="0.18">10</text>
<line x1="377.7" y1="342.58" x2="380.7" y2="342.58" stroke="#1a1a1a" stroke-width="1.0"/>
<text x="374.2" y="344.995" font-size="6.9" fill="#2a2a2a" text-anchor="end" stroke="#2a2a2a" stroke-width="0.18">8</text>
<line x1="377.7" y1="356.65999999999997" x2="380.7" y2="356.65999999999997" stroke="#1a1a1a" stroke-width="1.0"/>
<text x="374.2" y="359.075" font-size="6.9" fill="#2a2a2a" text-anchor="end" stroke="#2a2a2a" stroke-width="0.18">6</text>
<line x1="377.7" y1="370.74" x2="380.7" y2="370.74" stroke="#1a1a1a" stroke-width="1.0"/>
<text x="374.2" y="373.15500000000003" font-size="6.9" fill="#2a2a2a" text-anchor="end" stroke="#2a2a2a" stroke-width="0.18">4</text>
<line x1="377.7" y1="384.82" x2="380.7" y2="384.82" stroke="#1a1a1a" stroke-width="1.0"/>
<text x="374.2" y="387.235" font-size="6.9" fill="#2a2a2a" text-anchor="end" stroke="#2a2a2a" stroke-width="0.18">2</text>
<line x1="377.7" y1="398.9" x2="380.7" y2="398.9" stroke="#1a1a1a" stroke-width="1.0"/>
<text x="374.2" y="401.315" font-size="6.9" fill="#2a2a2a" text-anchor="end" stroke="#2a2a2a" stroke-width="0.18">0</text>
<path d="M390.4,332.1 L390.4,328.5 L403.7,328.5 L403.7,332.1" fill="none" stroke="#1a1a1a" stroke-width="1.0"/>
<text x="397.04999999999995" y="329.8" font-size="7.6" fill="#1a1a1a" text-anchor="middle" stroke="#1a1a1a" stroke-width="0.18">*</text>
<text x="349.8" y="361.9" font-size="9.2" fill="#2a2a2a" text-anchor="middle" stroke="#2a2a2a" stroke-width="0.18" textLength="61.5" lengthAdjust="spacingAndGlyphs" transform="rotate(-90 349.8 361.9)">CD45.1<tspan dy="-3.3" dx="0.6" font-size="6">+</tspan><tspan dy="3.3"> CD4 T cell</tspan></text>
<text x="360.1" y="361.9" font-size="8.2" fill="#2a2a2a" text-anchor="middle" stroke="#2a2a2a" stroke-width="0.18" textLength="42.3" lengthAdjust="spacingAndGlyphs" transform="rotate(-90 360.1 361.9)">(fold change)</text>
<text x="495.0" y="319.8" font-size="9.2" fill="#222" text-anchor="middle" stroke="#222" stroke-width="0.2" textLength="28.0" lengthAdjust="spacingAndGlyphs">Spleen</text>
<rect x="483.0" y="371.1" width="9.699999999999989" height="27.799999999999955" fill="#a2acd6"/>
<rect x="496.2" y="362.2" width="10.300000000000011" height="36.69999999999999" fill="#fdd39c"/>
<line x1="477.0" y1="370.74" x2="512.1" y2="370.74" stroke="#4a4a4a" stroke-width="0.8" stroke-dasharray="1.0,0.75"/>
<line x1="487.85" y1="368.5" x2="487.85" y2="373.5" stroke="#4a78b8" stroke-width="0.8"/>
<line x1="486.15000000000003" y1="373.5" x2="489.55" y2="373.5" stroke="#4a78b8" stroke-width="0.8"/>
<line x1="486.15000000000003" y1="368.5" x2="489.55" y2="368.5" stroke="#4a78b8" stroke-width="0.8"/>
<line x1="501.35" y1="357.9" x2="501.35" y2="366.5" stroke="#f0a538" stroke-width="0.8"/>
<line x1="499.65000000000003" y1="366.5" x2="503.05" y2="366.5" stroke="#f0a538" stroke-width="0.8"/>
<line x1="499.65000000000003" y1="357.9" x2="503.05" y2="357.9" stroke="#f0a538" stroke-width="0.8"/>
<circle cx="484" cy="368.2" r="0.95" fill="#2b5592"/>
<circle cx="486.5" cy="366.5" r="0.95" fill="#2b5592"/>
<circle cx="489" cy="368" r="0.95" fill="#2b5592"/>
<circle cx="491" cy="367" r="0.95" fill="#2b5592"/>
<circle cx="492" cy="366" r="0.95" fill="#2b5592"/>
<circle cx="487" cy="371" r="0.95" fill="#2b5592"/>
<circle cx="489" cy="373" r="0.95" fill="#2b5592"/>
<circle cx="488" cy="376" r="0.95" fill="#2b5592"/>
<circle cx="500" cy="345.5" r="0.9" fill="#f0a538"/>
<circle cx="500" cy="357.9" r="0.9" fill="#f0a538"/>
<circle cx="499.5" cy="363.2" r="0.9" fill="#f0a538"/>
<circle cx="501" cy="364.2" r="0.9" fill="#f0a538"/>
<circle cx="500.5" cy="374" r="0.9" fill="#f0a538"/>
<line x1="477.0" y1="325.6" x2="477.0" y2="399.59999999999997" stroke="#1a1a1a" stroke-width="1.4"/>
<line x1="476.3" y1="398.9" x2="512.1" y2="398.9" stroke="#1a1a1a" stroke-width="1.25"/>
<line x1="474.0" y1="328.5" x2="477.0" y2="328.5" stroke="#1a1a1a" stroke-width="1.0"/>
<text x="471.3" y="330.915" font-size="6.9" fill="#2a2a2a" text-anchor="end" stroke="#2a2a2a" stroke-width="0.18">2.5</text>
<line x1="474.0" y1="342.58" x2="477.0" y2="342.58" stroke="#1a1a1a" stroke-width="1.0"/>
<text x="471.3" y="344.995" font-size="6.9" fill="#2a2a2a" text-anchor="end" stroke="#2a2a2a" stroke-width="0.18">2.0</text>
<line x1="474.0" y1="356.65999999999997" x2="477.0" y2="356.65999999999997" stroke="#1a1a1a" stroke-width="1.0"/>
<text x="471.3" y="359.075" font-size="6.9" fill="#2a2a2a" text-anchor="end" stroke="#2a2a2a" stroke-width="0.18">1.5</text>
<line x1="474.0" y1="370.74" x2="477.0" y2="370.74" stroke="#1a1a1a" stroke-width="1.0"/>
<text x="471.3" y="373.15500000000003" font-size="6.9" fill="#2a2a2a" text-anchor="end" stroke="#2a2a2a" stroke-width="0.18">1.0</text>
<line x1="474.0" y1="384.82" x2="477.0" y2="384.82" stroke="#1a1a1a" stroke-width="1.0"/>
<text x="471.3" y="387.235" font-size="6.9" fill="#2a2a2a" text-anchor="end" stroke="#2a2a2a" stroke-width="0.18">0.5</text>
<line x1="474.0" y1="398.9" x2="477.0" y2="398.9" stroke="#1a1a1a" stroke-width="1.0"/>
<text x="471.3" y="401.315" font-size="6.9" fill="#2a2a2a" text-anchor="end" stroke="#2a2a2a" stroke-width="0.18">0.0</text>
<text x="443.0" y="361.9" font-size="9.2" fill="#2a2a2a" text-anchor="middle" stroke="#2a2a2a" stroke-width="0.18" textLength="61.5" lengthAdjust="spacingAndGlyphs" transform="rotate(-90 443.0 361.9)">CD45.1<tspan dy="-3.3" dx="0.6" font-size="6">+</tspan><tspan dy="3.3"> CD4 T cell</tspan></text>
<text x="454.6" y="361.9" font-size="8.2" fill="#2a2a2a" text-anchor="middle" stroke="#2a2a2a" stroke-width="0.18" textLength="42.3" lengthAdjust="spacingAndGlyphs" transform="rotate(-90 454.6 361.9)">(fold change)</text>
<text x="304.0" y="427.1" font-size="9.2" fill="#222" text-anchor="middle" stroke="#222" stroke-width="0.2" textLength="13.9" lengthAdjust="spacingAndGlyphs">BM</text>
<rect x="291.5" y="470.9" width="9.0" height="35.400000000000034" fill="#a2acd6"/>
<rect x="304.0" y="483.2" width="9.199999999999989" height="23.100000000000023" fill="#fdd39c"/>
<line x1="286.0" y1="471.15" x2="321.5" y2="471.15" stroke="#4a4a4a" stroke-width="0.8" stroke-dasharray="1.0,0.75"/>
<line x1="296.0" y1="465.9" x2="296.0" y2="476.0" stroke="#4a78b8" stroke-width="0.8"/>
<line x1="294.3" y1="476.0" x2="297.7" y2="476.0" stroke="#4a78b8" stroke-width="0.8"/>
<line x1="294.3" y1="465.9" x2="297.7" y2="465.9" stroke="#4a78b8" stroke-width="0.8"/>
<line x1="308.6" y1="479.6" x2="308.6" y2="486.5" stroke="#f0a538" stroke-width="0.8"/>
<line x1="306.90000000000003" y1="486.5" x2="310.3" y2="486.5" stroke="#f0a538" stroke-width="0.8"/>
<line x1="306.90000000000003" y1="479.6" x2="310.3" y2="479.6" stroke="#f0a538" stroke-width="0.8"/>
<circle cx="296" cy="451.9" r="0.95" fill="#2b5592"/>
<circle cx="296" cy="458.7" r="0.95" fill="#2b5592"/>
<circle cx="296" cy="463.7" r="0.95" fill="#2b5592"/>
<circle cx="296" cy="465.9" r="0.95" fill="#2b5592"/>
<circle cx="296" cy="472.3" r="0.95" fill="#2b5592"/>
<circle cx="296" cy="476.7" r="0.95" fill="#2b5592"/>
<circle cx="296" cy="480.7" r="0.95" fill="#2b5592"/>
<circle cx="296" cy="494.7" r="0.95" fill="#2b5592"/>
<circle cx="308.5" cy="468.7" r="0.9" fill="#f0a538"/>
<circle cx="308" cy="475.2" r="0.9" fill="#f0a538"/>
<circle cx="307.5" cy="479.6" r="0.9" fill="#f0a538"/>
<circle cx="308" cy="483.2" r="0.9" fill="#f0a538"/>
<circle cx="306.5" cy="487.5" r="0.9" fill="#f0a538"/>
<circle cx="309" cy="489.6" r="0.9" fill="#f0a538"/>
<circle cx="307" cy="491.1" r="0.9" fill="#f0a538"/>
<line x1="286.0" y1="433.5" x2="286.0" y2="507.0" stroke="#1a1a1a" stroke-width="1.4"/>
<line x1="285.3" y1="506.3" x2="321.5" y2="506.3" stroke="#1a1a1a" stroke-width="1.25"/>
<line x1="283.0" y1="436.0" x2="286.0" y2="436.0" stroke="#1a1a1a" stroke-width="1.0"/>
<text x="279.9" y="438.415" font-size="6.9" fill="#2a2a2a" text-anchor="end" stroke="#2a2a2a" stroke-width="0.18">2.0</text>
<line x1="283.0" y1="453.575" x2="286.0" y2="453.575" stroke="#1a1a1a" stroke-width="1.0"/>
<text x="279.9" y="455.99" font-size="6.9" fill="#2a2a2a" text-anchor="end" stroke="#2a2a2a" stroke-width="0.18">1.5</text>
<line x1="283.0" y1="471.15" x2="286.0" y2="471.15" stroke="#1a1a1a" stroke-width="1.0"/>
<text x="279.9" y="473.565" font-size="6.9" fill="#2a2a2a" text-anchor="end" stroke="#2a2a2a" stroke-width="0.18">1.0</text>
<line x1="283.0" y1="488.725" x2="286.0" y2="488.725" stroke="#1a1a1a" stroke-width="1.0"/>
<text x="279.9" y="491.14000000000004" font-size="6.9" fill="#2a2a2a" text-anchor="end" stroke="#2a2a2a" stroke-width="0.18">0.5</text>
<line x1="283.0" y1="506.3" x2="286.0" y2="506.3" stroke="#1a1a1a" stroke-width="1.0"/>
<text x="279.9" y="508.71500000000003" font-size="6.9" fill="#2a2a2a" text-anchor="end" stroke="#2a2a2a" stroke-width="0.18">0.0</text>
<text x="253.2" y="469.34999999999997" font-size="9.2" fill="#2a2a2a" text-anchor="middle" stroke="#2a2a2a" stroke-width="0.18" textLength="67.5" lengthAdjust="spacingAndGlyphs" transform="rotate(-90 253.2 469.34999999999997)">CD44<tspan dy="-3.3" dx="0.6" font-size="6">+</tspan><tspan dy="3.3">CD45.1<tspan dy="-3.3" dx="0.6" font-size="6">+</tspan><tspan dy="3.3"> CD4</tspan></tspan></text>
<text x="264.3" y="468.84999999999997" font-size="8.2" fill="#2a2a2a" text-anchor="middle" stroke="#2a2a2a" stroke-width="0.18" textLength="59.6" lengthAdjust="spacingAndGlyphs" transform="rotate(-90 264.3 468.84999999999997)">T cell (fold change)</text>
<text x="398.9" y="427.1" font-size="9.2" fill="#222" text-anchor="middle" stroke="#222" stroke-width="0.2" textLength="23.9" lengthAdjust="spacingAndGlyphs">Blood</text>
<rect x="386.2" y="500.5" width="9.199999999999989" height="5.800000000000011" fill="#a2acd6"/>
<rect x="398.8" y="489.3" width="9.199999999999989" height="17.0" fill="#fdd39c"/>
<line x1="380.7" y1="501.61333333333334" x2="415.6" y2="501.61333333333334" stroke="#4a4a4a" stroke-width="0.8" stroke-dasharray="1.0,0.75"/>
<line x1="390.79999999999995" y1="498.5" x2="390.79999999999995" y2="503.0" stroke="#4a78b8" stroke-width="0.8"/>
<line x1="389.09999999999997" y1="503.0" x2="392.49999999999994" y2="503.0" stroke="#4a78b8" stroke-width="0.8"/>
<line x1="389.09999999999997" y1="498.5" x2="392.49999999999994" y2="498.5" stroke="#4a78b8" stroke-width="0.8"/>
<line x1="403.4" y1="482.4" x2="403.4" y2="496.0" stroke="#f0a538" stroke-width="0.8"/>
<line x1="401.7" y1="496.0" x2="405.09999999999997" y2="496.0" stroke="#f0a538" stroke-width="0.8"/>
<line x1="401.7" y1="482.4" x2="405.09999999999997" y2="482.4" stroke="#f0a538" stroke-width="0.8"/>
<circle cx="388" cy="500" r="0.95" fill="#2b5592"/>
<circle cx="391" cy="498.5" r="0.95" fill="#2b5592"/>
<circle cx="394" cy="498.5" r="0.95" fill="#2b5592"/>
<circle cx="389.5" cy="502" r="0.95" fill="#2b5592"/>
<circle cx="392.5" cy="502.5" r="0.95" fill="#2b5592"/>
<circle cx="387" cy="503" r="0.95" fill="#2b5592"/>
<circle cx="394" cy="503" r="0.95" fill="#2b5592"/>
<circle cx="403" cy="454.3" r="0.9" fill="#f0a538"/>
<circle cx="403" cy="487.5" r="0.9" fill="#f0a538"/>
<circle cx="402" cy="491.1" r="0.9" fill="#f0a538"/>
<circle cx="404" cy="492.5" r="0.9" fill="#f0a538"/>
<circle cx="403" cy="495.4" r="0.9" fill="#f0a538"/>
<line x1="380.7" y1="433.5" x2="380.7" y2="507.0" stroke="#1a1a1a" stroke-width="1.4"/>
<line x1="380.0" y1="506.3" x2="415.6" y2="506.3" stroke="#1a1a1a" stroke-width="1.25"/>
<line x1="377.7" y1="436.0" x2="380.7" y2="436.0" stroke="#1a1a1a" stroke-width="1.0"/>
<text x="374.2" y="438.415" font-size="6.9" fill="#2a2a2a" text-anchor="end" stroke="#2a2a2a" stroke-width="0.18">15</text>
<line x1="377.7" y1="459.43333333333334" x2="380.7" y2="459.43333333333334" stroke="#1a1a1a" stroke-width="1.0"/>
<text x="374.2" y="461.84833333333336" font-size="6.9" fill="#2a2a2a" text-anchor="end" stroke="#2a2a2a" stroke-width="0.18">10</text>
<line x1="377.7" y1="482.8666666666667" x2="380.7" y2="482.8666666666667" stroke="#1a1a1a" stroke-width="1.0"/>
<text x="374.2" y="485.2816666666667" font-size="6.9" fill="#2a2a2a" text-anchor="end" stroke="#2a2a2a" stroke-width="0.18">5</text>
<line x1="377.7" y1="506.3" x2="380.7" y2="506.3" stroke="#1a1a1a" stroke-width="1.0"/>
<text x="374.2" y="508.71500000000003" font-size="6.9" fill="#2a2a2a" text-anchor="end" stroke="#2a2a2a" stroke-width="0.18">0</text>
<path d="M390.4,439.6 L390.4,436.0 L403.7,436.0 L403.7,439.6" fill="none" stroke="#1a1a1a" stroke-width="1.0"/>
<text x="397.04999999999995" y="437.3" font-size="7.6" fill="#1a1a1a" text-anchor="middle" stroke="#1a1a1a" stroke-width="0.18">*</text>
<text x="349.8" y="469.34999999999997" font-size="9.2" fill="#2a2a2a" text-anchor="middle" stroke="#2a2a2a" stroke-width="0.18" textLength="67.5" lengthAdjust="spacingAndGlyphs" transform="rotate(-90 349.8 469.34999999999997)">CD44<tspan dy="-3.3" dx="0.6" font-size="6">+</tspan><tspan dy="3.3">CD45.1<tspan dy="-3.3" dx="0.6" font-size="6">+</tspan><tspan dy="3.3"> CD4</tspan></tspan></text>
<text x="360.1" y="468.84999999999997" font-size="8.2" fill="#2a2a2a" text-anchor="middle" stroke="#2a2a2a" stroke-width="0.18" textLength="59.6" lengthAdjust="spacingAndGlyphs" transform="rotate(-90 360.1 468.84999999999997)">T cell (fold change)</text>
<text x="495.0" y="427.1" font-size="9.2" fill="#222" text-anchor="middle" stroke="#222" stroke-width="0.2" textLength="28.0" lengthAdjust="spacingAndGlyphs">Spleen</text>
<rect x="483.0" y="471.2" width="9.699999999999989" height="35.10000000000002" fill="#a2acd6"/>
<rect x="496.2" y="471.6" width="10.300000000000011" height="34.69999999999999" fill="#fdd39c"/>
<line x1="477.0" y1="471.15" x2="512.1" y2="471.15" stroke="#4a4a4a" stroke-width="0.8" stroke-dasharray="1.0,0.75"/>
<line x1="487.85" y1="468.7" x2="487.85" y2="474.0" stroke="#4a78b8" stroke-width="0.8"/>
<line x1="486.15000000000003" y1="474.0" x2="489.55" y2="474.0" stroke="#4a78b8" stroke-width="0.8"/>
<line x1="486.15000000000003" y1="468.7" x2="489.55" y2="468.7" stroke="#4a78b8" stroke-width="0.8"/>
<line x1="501.35" y1="464.0" x2="501.35" y2="477.0" stroke="#f0a538" stroke-width="0.8"/>
<line x1="499.65000000000003" y1="477.0" x2="503.05" y2="477.0" stroke="#f0a538" stroke-width="0.8"/>
<line x1="499.65000000000003" y1="464.0" x2="503.05" y2="464.0" stroke="#f0a538" stroke-width="0.8"/>
<circle cx="488" cy="459.4" r="0.95" fill="#2b5592"/>
<circle cx="488" cy="464" r="0.95" fill="#2b5592"/>
<circle cx="488" cy="468.7" r="0.95" fill="#2b5592"/>
<circle cx="488" cy="471.6" r="0.95" fill="#2b5592"/>
<circle cx="487" cy="474.5" r="0.95" fill="#2b5592"/>
<circle cx="488" cy="478.8" r="0.95" fill="#2b5592"/>
<circle cx="488" cy="481.7" r="0.95" fill="#2b5592"/>
<circle cx="501" cy="455.8" r="0.9" fill="#f0a538"/>
<circle cx="502.5" cy="457.2" r="0.9" fill="#f0a538"/>
<circle cx="501" cy="464" r="0.9" fill="#f0a538"/>
<circle cx="501" cy="470.9" r="0.9" fill="#f0a538"/>
<circle cx="500" cy="481.7" r="0.9" fill="#f0a538"/>
<circle cx="502" cy="483.9" r="0.9" fill="#f0a538"/>
<line x1="477.0" y1="433.5" x2="477.0" y2="507.0" stroke="#1a1a1a" stroke-width="1.4"/>
<line x1="476.3" y1="506.3" x2="512.1" y2="506.3" stroke="#1a1a1a" stroke-width="1.25"/>
<line x1="474.0" y1="436.0" x2="477.0" y2="436.0" stroke="#1a1a1a" stroke-width="1.0"/>
<text x="471.3" y="438.415" font-size="6.9" fill="#2a2a2a" text-anchor="end" stroke="#2a2a2a" stroke-width="0.18">2.0</text>
<line x1="474.0" y1="453.575" x2="477.0" y2="453.575" stroke="#1a1a1a" stroke-width="1.0"/>
<text x="471.3" y="455.99" font-size="6.9" fill="#2a2a2a" text-anchor="end" stroke="#2a2a2a" stroke-width="0.18">1.5</text>
<line x1="474.0" y1="471.15" x2="477.0" y2="471.15" stroke="#1a1a1a" stroke-width="1.0"/>
<text x="471.3" y="473.565" font-size="6.9" fill="#2a2a2a" text-anchor="end" stroke="#2a2a2a" stroke-width="0.18">1.0</text>
<line x1="474.0" y1="488.725" x2="477.0" y2="488.725" stroke="#1a1a1a" stroke-width="1.0"/>
<text x="471.3" y="491.14000000000004" font-size="6.9" fill="#2a2a2a" text-anchor="end" stroke="#2a2a2a" stroke-width="0.18">0.5</text>
<line x1="474.0" y1="506.3" x2="477.0" y2="506.3" stroke="#1a1a1a" stroke-width="1.0"/>
<text x="471.3" y="508.71500000000003" font-size="6.9" fill="#2a2a2a" text-anchor="end" stroke="#2a2a2a" stroke-width="0.18">0.0</text>
<text x="443.0" y="469.34999999999997" font-size="9.2" fill="#2a2a2a" text-anchor="middle" stroke="#2a2a2a" stroke-width="0.18" textLength="67.5" lengthAdjust="spacingAndGlyphs" transform="rotate(-90 443.0 469.34999999999997)">CD44<tspan dy="-3.3" dx="0.6" font-size="6">+</tspan><tspan dy="3.3">CD45.1<tspan dy="-3.3" dx="0.6" font-size="6">+</tspan><tspan dy="3.3"> CD4</tspan></tspan></text>
<text x="454.6" y="468.84999999999997" font-size="8.2" fill="#2a2a2a" text-anchor="middle" stroke="#2a2a2a" stroke-width="0.18" textLength="59.6" lengthAdjust="spacingAndGlyphs" transform="rotate(-90 454.6 468.84999999999997)">T cell (fold change)</text>
<circle cx="351.3" cy="516.9" r="1.1" fill="#2b5592"/>
<text x="355.7" y="519.5" font-size="7.4" fill="#2a2a2a" text-anchor="start" stroke="#2a2a2a" stroke-width="0.18" textLength="21.7" lengthAdjust="spacingAndGlyphs">Vehicle</text>
<circle cx="385.2" cy="516.9" r="1.1" fill="#f0a538"/>
<text x="390.3" y="519.5" font-size="7.4" fill="#2a2a2a" text-anchor="start" stroke="#2a2a2a" stroke-width="0.18" textLength="57.0" lengthAdjust="spacingAndGlyphs">G-CSF+AMD3100</text>
<circle cx="75.9" cy="324.59999999999997" r="1.55" fill="none" stroke="#555" stroke-width="0.75"/>
<path d="M75.9,326.15 V328.5 M74.80000000000001,327.4 H77.0" stroke="#555" stroke-width="0.75" fill="none"/>
<text x="79.6" y="327.8" font-size="7.4" fill="#2a2a2a" text-anchor="start" stroke="#2a2a2a" stroke-width="0.18" textLength="51.6" lengthAdjust="spacingAndGlyphs">MataHari <tspan font-style="italic">mouse</tspan></text>
<text x="105.0" y="335.8" font-size="7.4" fill="#2a2a2a" text-anchor="middle" stroke="#2a2a2a" stroke-width="0.18" textLength="55.4" lengthAdjust="spacingAndGlyphs">(HY-TCR, CD45.1)</text>
<g transform="translate(94.0,350.4) scale(1.0095238095238095,1.1333333333333333)"><path d="M1.2,-1.3 C-2,-2.9 -5,-2.4 -9,-0.5" fill="none" stroke="#c9c3c5" stroke-width="1.1" stroke-linecap="round"/><path d="M1.0,-0.6 C-0.6,-2.5 1.5,-7.5 7,-8.8 C10,-9.4 13,-8.6 15,-7.6 C16.5,-7.3 17.5,-6.6 18.5,-5.6 C19.6,-4.6 20.8,-3.5 21,-2.7 C21.1,-2.0 20.2,-1.7 19.2,-1.6 L18.2,-0.9 L18.4,0 L16.6,0 L16.2,-0.8 L6.5,-0.6 L5.5,0 L3.5,0 L3.2,-0.4 Z" fill="#272424"/><ellipse cx="17.2" cy="-7.4" rx="1.1" ry="1.8" transform="rotate(20 17.2 -7.4)" fill="#d8b4bc"/><circle cx="20.9" cy="-2.8" r="0.5" fill="#c87888"/></g>
<circle cx="32.1" cy="351.0" r="1.55" fill="none" stroke="#555" stroke-width="0.75"/>
<path d="M33.2,349.9 L34.7,348.1 M33.3,348.0 H34.8 V349.5" stroke="#555" stroke-width="0.75" fill="none"/>
<text x="37.1" y="352.8" font-size="7.4" fill="#2a2a2a" text-anchor="start" stroke="#2a2a2a" stroke-width="0.18" textLength="37.9" lengthAdjust="spacingAndGlyphs">HY<tspan dy="-3" font-size="5">+</tspan><tspan dy="3"> VkMYC</tspan></text>
<line x1="56.8" y1="357.4" x2="61.4" y2="365.6" stroke="#888" stroke-width="0.8" stroke-dasharray="1.2,0.9"/>
<path d="M62.3,367.3 L60.3,365.2 L62.0,364.4 Z" fill="#888"/>
<g transform="translate(66.2,374.3) scale(1.0857142857142859,1.1555555555555557)"><path d="M1.2,-1.3 C-2,-2.9 -5,-2.4 -9,-0.5" fill="none" stroke="#c9c3c5" stroke-width="1.1" stroke-linecap="round"/><path d="M1.0,-0.6 C-0.6,-2.5 1.5,-7.5 7,-8.8 C10,-9.4 13,-8.6 15,-7.6 C16.5,-7.3 17.5,-6.6 18.5,-5.6 C19.6,-4.6 20.8,-3.5 21,-2.7 C21.1,-2.0 20.2,-1.7 19.2,-1.6 L18.2,-0.9 L18.4,0 L16.6,0 L16.2,-0.8 L6.5,-0.6 L5.5,0 L3.5,0 L3.2,-0.4 Z" fill="#272424"/><ellipse cx="17.2" cy="-7.4" rx="1.1" ry="1.8" transform="rotate(20 17.2 -7.4)" fill="#d8b4bc"/><circle cx="20.9" cy="-2.8" r="0.5" fill="#c87888"/></g>
<text x="105.0" y="366.0" font-size="7.4" fill="#2a2a2a" text-anchor="middle" stroke="#2a2a2a" stroke-width="0.18" textLength="30.6" lengthAdjust="spacingAndGlyphs">5-6 weeks</text>
<line x1="95.8" y1="369.0" x2="114.5" y2="369.0" stroke="#1a1a1a" stroke-width="1.1"/>
<path d="M117.00,369.00 L114.00,370.65 L114.00,367.35 Z" fill="#1a1a1a"/>
<circle cx="49.0" cy="380.5" r="1.55" fill="none" stroke="#555" stroke-width="0.75"/>
<path d="M49.0,382.05 V384.40000000000003 M47.9,383.3 H50.1" stroke="#555" stroke-width="0.75" fill="none"/>
<text x="53.3" y="383.9" font-size="7.4" fill="#2a2a2a" text-anchor="start" stroke="#2a2a2a" stroke-width="0.18" textLength="46.5" lengthAdjust="spacingAndGlyphs">RAG2/IL2rgKO</text>
<text x="76.6" y="391.2" font-size="7.4" fill="#2a2a2a" text-anchor="middle" stroke="#2a2a2a" stroke-width="0.18" textLength="27.4" lengthAdjust="spacingAndGlyphs">(CD45.2)</text>
<line x1="115.4" y1="350.8" x2="126.33308698828016" y2="360.537280598937" stroke="#1a1a1a" stroke-width="1.1"/>
<path d="M128.20,362.20 L124.86,361.44 L127.06,358.97 Z" fill="#1a1a1a"/>
<text x="137.3" y="354.2" font-size="7.4" fill="#2a2a2a" text-anchor="middle" stroke="#2a2a2a" stroke-width="0.18" textLength="31.9" lengthAdjust="spacingAndGlyphs">CD8 T cell</text>
<g transform="translate(128.8,373) scale(1.0571428571428572,1.1555555555555557)"><path d="M1.2,-1.3 C-2,-2.9 -5,-2.4 -9,-0.5" fill="none" stroke="#c9c3c5" stroke-width="1.1" stroke-linecap="round"/><path d="M1.0,-0.6 C-0.6,-2.5 1.5,-7.5 7,-8.8 C10,-9.4 13,-8.6 15,-7.6 C16.5,-7.3 17.5,-6.6 18.5,-5.6 C19.6,-4.6 20.8,-3.5 21,-2.7 C21.1,-2.0 20.2,-1.7 19.2,-1.6 L18.2,-0.9 L18.4,0 L16.6,0 L16.2,-0.8 L6.5,-0.6 L5.5,0 L3.5,0 L3.2,-0.4 Z" fill="#272424"/><ellipse cx="17.2" cy="-7.4" rx="1.1" ry="1.8" transform="rotate(20 17.2 -7.4)" fill="#d8b4bc"/><circle cx="20.9" cy="-2.8" r="0.5" fill="#c87888"/></g>
<text x="168.8" y="352.8" font-size="7.4" fill="#2a2a2a" text-anchor="middle" stroke="#2a2a2a" stroke-width="0.18" textLength="22.0" lengthAdjust="spacingAndGlyphs">Vehicle</text>
<text x="160.5" y="365.0" font-size="7.4" fill="#2a2a2a" text-anchor="middle" stroke="#2a2a2a" stroke-width="0.18" textLength="19.0" lengthAdjust="spacingAndGlyphs">3 days</text>
<line x1="153.3" y1="368.8" x2="167.3" y2="368.8" stroke="#1a1a1a" stroke-width="1.1"/>
<path d="M169.80,368.80 L166.80,370.45 L166.80,367.15 Z" fill="#1a1a1a"/>
<line x1="187.5" y1="357.3" x2="173.5" y2="368.5" stroke="#1a1a1a" stroke-width="1.2"/>
<line x1="173.5" y1="368.5" x2="187.5" y2="380.3" stroke="#1a1a1a" stroke-width="1.2"/>
<line x1="181.5" y1="362.1" x2="186.1856007117546" y2="358.37908178772426" stroke="#1a1a1a" stroke-width="1.1"/>
<path d="M188.30,356.70 L186.89,360.07 L184.70,357.31 Z" fill="#1a1a1a"/>
<line x1="181.5" y1="375.2" x2="186.23079961213477" y2="379.1655232042894" stroke="#1a1a1a" stroke-width="1.1"/>
<path d="M188.30,380.90 L184.72,380.19 L186.98,377.50 Z" fill="#1a1a1a"/>
<text x="166.9" y="383.1" font-size="7.4" fill="#2a2a2a" text-anchor="middle" stroke="#2a2a2a" stroke-width="0.18" textLength="20.0" lengthAdjust="spacingAndGlyphs">G-CSF</text>
<text x="168.6" y="390.6" font-size="7.4" fill="#2a2a2a" text-anchor="middle" stroke="#2a2a2a" stroke-width="0.18" textLength="33.0" lengthAdjust="spacingAndGlyphs">+AMD3100</text>
<text x="200.1" y="348.8" font-size="7.4" fill="#8a5a9c" text-anchor="middle" stroke="#8a5a9c" stroke-width="0.18" textLength="9.7" lengthAdjust="spacingAndGlyphs">BM</text>
<text x="200.0" y="357.3" font-size="7.4" fill="#8a5a9c" text-anchor="middle" stroke="#8a5a9c" stroke-width="0.18" textLength="17.5" lengthAdjust="spacingAndGlyphs">Blood</text>
<text x="200.1" y="376.5" font-size="7.4" fill="#4eb0e0" text-anchor="middle" stroke="#4eb0e0" stroke-width="0.18" textLength="9.7" lengthAdjust="spacingAndGlyphs">BM</text>
<text x="200.0" y="384.8" font-size="7.4" fill="#4eb0e0" text-anchor="middle" stroke="#4eb0e0" stroke-width="0.18" textLength="17.5" lengthAdjust="spacingAndGlyphs">Blood</text>
<text x="86.5" y="418.1" font-size="9.2" fill="#222" text-anchor="middle" stroke="#222" stroke-width="0.2" textLength="13.8" lengthAdjust="spacingAndGlyphs">BM</text>
<rect x="69.3" y="458.6" width="14.700000000000003" height="43.89999999999998" fill="#b396c6"/>
<rect x="89.3" y="490.9" width="14.400000000000006" height="11.600000000000023" fill="#b8dcf4"/>
<line x1="76.6" y1="449.5" x2="76.6" y2="466.7" stroke="#3a1640" stroke-width="0.8"/>
<line x1="73.0" y1="466.7" x2="80.19999999999999" y2="466.7" stroke="#3a1640" stroke-width="0.8"/>
<line x1="73.0" y1="449.5" x2="80.19999999999999" y2="449.5" stroke="#3a1640" stroke-width="0.8"/>
<line x1="96.1" y1="486.4" x2="96.1" y2="497.5" stroke="#3aa2d8" stroke-width="0.8"/>
<line x1="92.5" y1="497.5" x2="99.69999999999999" y2="497.5" stroke="#3aa2d8" stroke-width="0.8"/>
<line x1="92.5" y1="486.4" x2="99.69999999999999" y2="486.4" stroke="#3aa2d8" stroke-width="0.8"/>
<circle cx="76.4" cy="440.2" r="1.0" fill="#3a1640"/>
<circle cx="76.4" cy="455" r="1.0" fill="#3a1640"/>
<circle cx="76.4" cy="457.3" r="1.0" fill="#3a1640"/>
<circle cx="76.4" cy="481.8" r="1.0" fill="#3a1640"/>
<circle cx="96.1" cy="477.7" r="1.0" fill="#3aa2d8"/>
<circle cx="93.1" cy="493.5" r="1.0" fill="#3aa2d8"/>
<circle cx="99.1" cy="493.5" r="1.0" fill="#3aa2d8"/>
<circle cx="96.1" cy="496.2" r="1.0" fill="#3aa2d8"/>
<line x1="60.5" y1="423.8" x2="60.5" y2="503.2" stroke="#1a1a1a" stroke-width="1.4"/>
<line x1="59.8" y1="502.5" x2="118.5" y2="502.5" stroke="#1a1a1a" stroke-width="1.25"/>
<line x1="57.5" y1="426.8" x2="60.5" y2="426.8" stroke="#1a1a1a" stroke-width="1.0"/>
<text x="55.4" y="429.21500000000003" font-size="6.9" fill="#2a2a2a" text-anchor="end" stroke="#2a2a2a" stroke-width="0.18">1.0</text>
<line x1="57.5" y1="441.94" x2="60.5" y2="441.94" stroke="#1a1a1a" stroke-width="1.0"/>
<text x="55.4" y="444.355" font-size="6.9" fill="#2a2a2a" text-anchor="end" stroke="#2a2a2a" stroke-width="0.18">0.8</text>
<line x1="57.5" y1="457.08" x2="60.5" y2="457.08" stroke="#1a1a1a" stroke-width="1.0"/>
<text x="55.4" y="459.495" font-size="6.9" fill="#2a2a2a" text-anchor="end" stroke="#2a2a2a" stroke-width="0.18">0.6</text>
<line x1="57.5" y1="472.22" x2="60.5" y2="472.22" stroke="#1a1a1a" stroke-width="1.0"/>
<text x="55.4" y="474.63500000000005" font-size="6.9" fill="#2a2a2a" text-anchor="end" stroke="#2a2a2a" stroke-width="0.18">0.4</text>
<line x1="57.5" y1="487.36" x2="60.5" y2="487.36" stroke="#1a1a1a" stroke-width="1.0"/>
<text x="55.4" y="489.77500000000003" font-size="6.9" fill="#2a2a2a" text-anchor="end" stroke="#2a2a2a" stroke-width="0.18">0.2</text>
<line x1="57.5" y1="502.5" x2="60.5" y2="502.5" stroke="#1a1a1a" stroke-width="1.0"/>
<text x="55.4" y="504.915" font-size="6.9" fill="#2a2a2a" text-anchor="end" stroke="#2a2a2a" stroke-width="0.18">0.0</text>
<path d="M76.4,435.59999999999997 L76.4,431.4 L96.5,431.4 L96.5,435.59999999999997" fill="none" stroke="#1a1a1a" stroke-width="1.0"/>
<text x="86.45" y="432.0" font-size="7" fill="#1a1a1a" text-anchor="middle" stroke="#1a1a1a" stroke-width="0.18">*</text>
<text x="28.9" y="462.8" font-size="9.0" fill="#2a2a2a" text-anchor="middle" stroke="#2a2a2a" stroke-width="0.18" textLength="62.5" lengthAdjust="spacingAndGlyphs" transform="rotate(-90 28.9 462.8)">MataHari CD8 T cell</text>
<text x="38.6" y="462.3" font-size="8.6" fill="#2a2a2a" text-anchor="middle" stroke="#2a2a2a" stroke-width="0.18" textLength="46.4" lengthAdjust="spacingAndGlyphs" transform="rotate(-90 38.6 462.3)">(×10<tspan dy="-3.2" font-size="5.8">6</tspan><tspan dy="3.2">/femur)</tspan></text>
<text x="195.2" y="418.9" font-size="9.2" fill="#222" text-anchor="middle" stroke="#222" stroke-width="0.2" textLength="24.0" lengthAdjust="spacingAndGlyphs">Blood</text>
<rect x="177.9" y="481.1" width="14.5" height="21.19999999999999" fill="#b396c6"/>
<rect x="197.0" y="458.6" width="14.699999999999989" height="43.69999999999999" fill="#b8dcf4"/>
<line x1="185.2" y1="476.8" x2="185.2" y2="484.8" stroke="#3a1640" stroke-width="0.8"/>
<line x1="181.7" y1="484.8" x2="188.7" y2="484.8" stroke="#3a1640" stroke-width="0.8"/>
<line x1="181.7" y1="476.8" x2="188.7" y2="476.8" stroke="#3a1640" stroke-width="0.8"/>
<line x1="204.1" y1="450.8" x2="204.1" y2="465.6" stroke="#3aa2d8" stroke-width="0.8"/>
<line x1="200.6" y1="465.6" x2="207.6" y2="465.6" stroke="#3aa2d8" stroke-width="0.8"/>
<line x1="200.6" y1="450.8" x2="207.6" y2="450.8" stroke="#3aa2d8" stroke-width="0.8"/>
<circle cx="185.2" cy="471.2" r="1.0" fill="#3a1640"/>
<circle cx="185.2" cy="479.2" r="1.0" fill="#3a1640"/>
<circle cx="185.2" cy="481.4" r="1.0" fill="#3a1640"/>
<circle cx="185.2" cy="483" r="1.0" fill="#3a1640"/>
<circle cx="185.2" cy="490.2" r="1.0" fill="#3a1640"/>
<circle cx="204.1" cy="442" r="1.0" fill="#3aa2d8"/>
<circle cx="204.1" cy="455" r="1.0" fill="#3aa2d8"/>
<circle cx="204.1" cy="458" r="1.0" fill="#3aa2d8"/>
<circle cx="204.1" cy="477.3" r="1.0" fill="#3aa2d8"/>
<line x1="170.1" y1="423.9" x2="170.1" y2="503.0" stroke="#1a1a1a" stroke-width="1.4"/>
<line x1="169.4" y1="502.3" x2="219.7" y2="502.3" stroke="#1a1a1a" stroke-width="1.25"/>
<line x1="167.1" y1="427.7" x2="170.1" y2="427.7" stroke="#1a1a1a" stroke-width="1.0"/>
<text x="163.9" y="430.115" font-size="6.9" fill="#2a2a2a" text-anchor="end" stroke="#2a2a2a" stroke-width="0.18">0.8</text>
<line x1="167.1" y1="446.35" x2="170.1" y2="446.35" stroke="#1a1a1a" stroke-width="1.0"/>
<text x="163.9" y="448.76500000000004" font-size="6.9" fill="#2a2a2a" text-anchor="end" stroke="#2a2a2a" stroke-width="0.18">0.6</text>
<line x1="167.1" y1="465.0" x2="170.1" y2="465.0" stroke="#1a1a1a" stroke-width="1.0"/>
<text x="163.9" y="467.415" font-size="6.9" fill="#2a2a2a" text-anchor="end" stroke="#2a2a2a" stroke-width="0.18">0.4</text>
<line x1="167.1" y1="483.65" x2="170.1" y2="483.65" stroke="#1a1a1a" stroke-width="1.0"/>
<text x="163.9" y="486.065" font-size="6.9" fill="#2a2a2a" text-anchor="end" stroke="#2a2a2a" stroke-width="0.18">0.2</text>
<line x1="167.1" y1="502.3" x2="170.1" y2="502.3" stroke="#1a1a1a" stroke-width="1.0"/>
<text x="163.9" y="504.71500000000003" font-size="6.9" fill="#2a2a2a" text-anchor="end" stroke="#2a2a2a" stroke-width="0.18">0.0</text>
<path d="M184.8,437.4 L184.8,432.9 L204.5,432.9 L204.5,437.4" fill="none" stroke="#1a1a1a" stroke-width="1.0"/>
<text x="194.65" y="433.5" font-size="7" fill="#1a1a1a" text-anchor="middle" stroke="#1a1a1a" stroke-width="0.18">*</text>
<text x="138.0" y="462.8" font-size="9.0" fill="#2a2a2a" text-anchor="middle" stroke="#2a2a2a" stroke-width="0.18" textLength="62.5" lengthAdjust="spacingAndGlyphs" transform="rotate(-90 138.0 462.8)">MataHari CD8 T cell</text>
<text x="147.6" y="462.8" font-size="8.6" fill="#2a2a2a" text-anchor="middle" stroke="#2a2a2a" stroke-width="0.18" textLength="36.0" lengthAdjust="spacingAndGlyphs" transform="rotate(-90 147.6 462.8)">(×10<tspan dy="-3.2" font-size="5.8">6</tspan><tspan dy="3.2">/mL)</tspan></text>
<circle cx="72.0" cy="516.8" r="1.1" fill="#3a1640"/>
<text x="77.3" y="519.3" font-size="7.3" fill="#2a2a2a" text-anchor="start" stroke="#2a2a2a" stroke-width="0.18" textLength="21.5" lengthAdjust="spacingAndGlyphs">Vehicle</text>
<circle cx="107.2" cy="516.8" r="1.1" fill="#3aa2d8"/>
<text x="111.9" y="519.3" font-size="7.3" fill="#2a2a2a" text-anchor="start" stroke="#2a2a2a" stroke-width="0.18" textLength="56.6" lengthAdjust="spacingAndGlyphs">G-CSF+AMD3100</text>
<rect x="0" y="0" width="520" height="1.2" fill="#525252"/>
<rect x="0" y="0" width="1.3" height="528" fill="#525252"/>
<rect x="518.7" y="0" width="1.3" height="528" fill="#555"/>
<rect x="0" y="526.8" width="520" height="1.2" fill="#555"/>
</svg>
</body></html>
